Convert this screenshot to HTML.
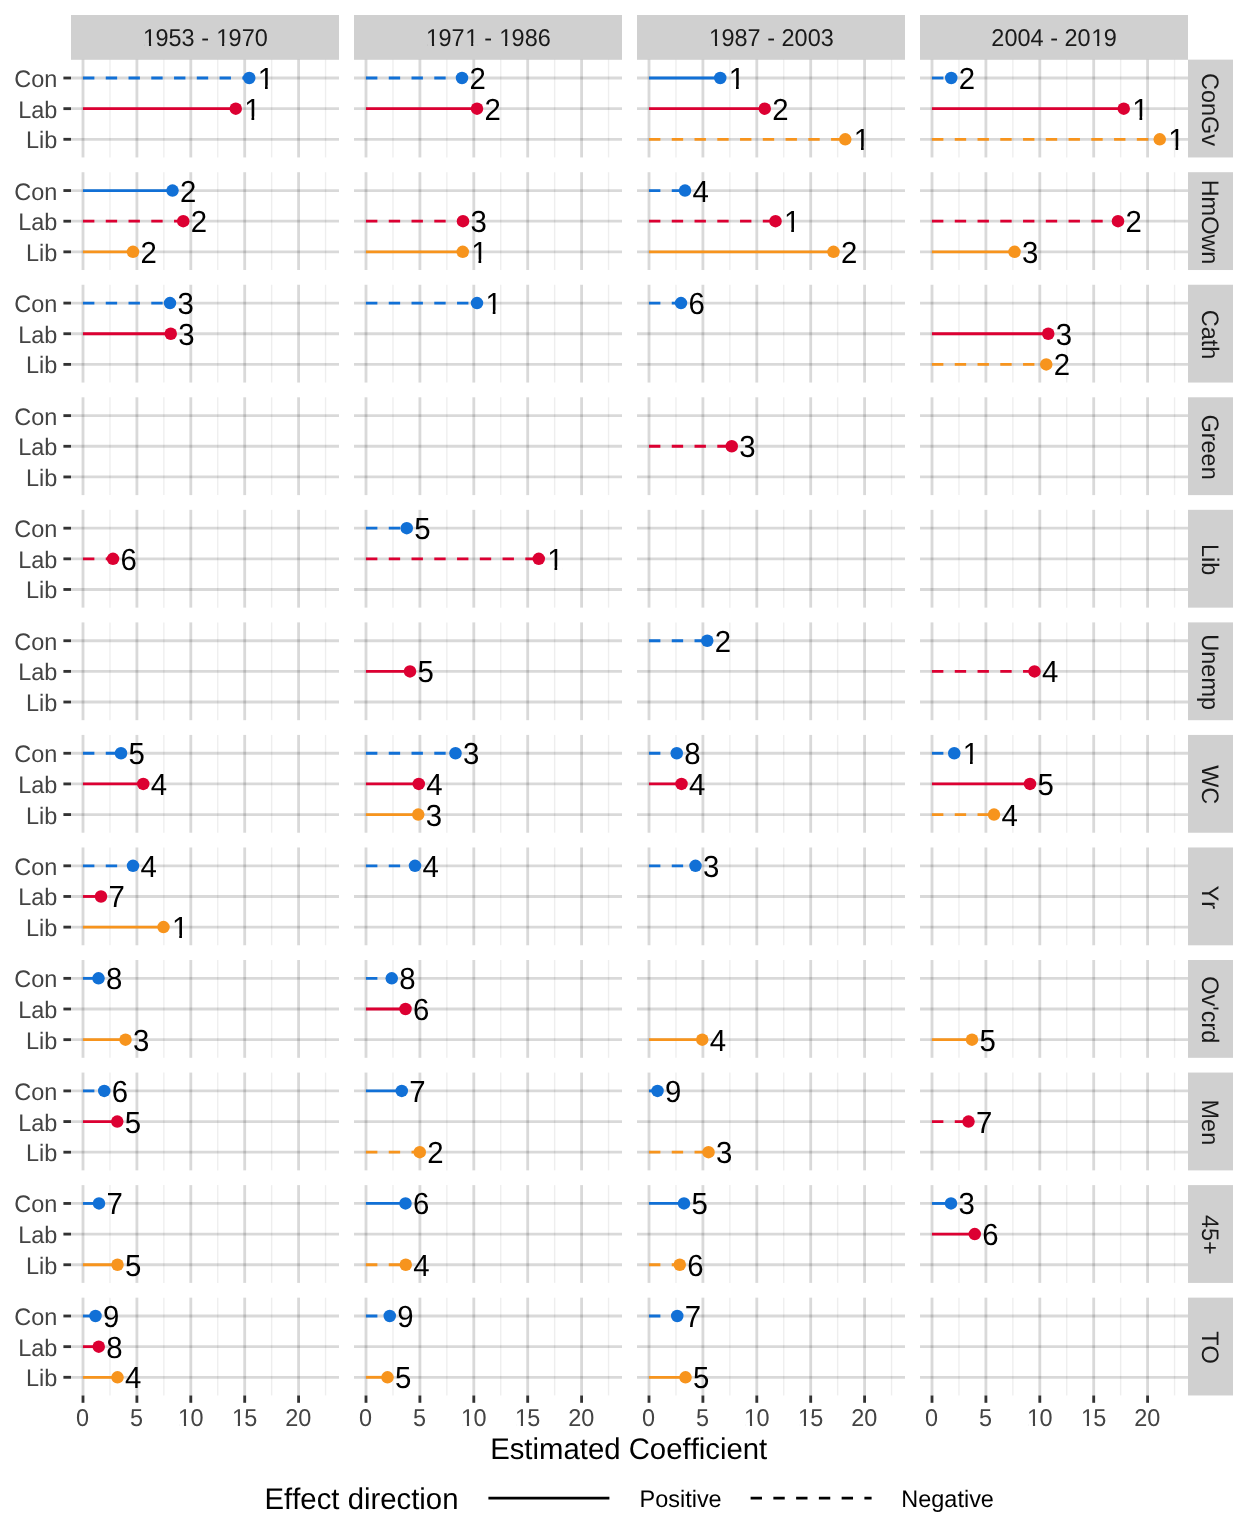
<!DOCTYPE html>
<html><head><meta charset="utf-8"><title>Estimated Coefficient</title>
<style>
html,body{margin:0;padding:0;background:#fff;}
body{width:1248px;height:1536px;overflow:hidden;}
svg{display:block;text-rendering:geometricPrecision;will-change:transform;font-variant-ligatures:none;font-kerning:none;font-family:"Liberation Sans",sans-serif;}
.ax{font-size:23.47px;fill:#444;}
.st{font-size:23.47px;fill:#1A1A1A;}
.lb{font-size:29.4px;fill:#000;}
.tt{font-size:29.33px;fill:#000;}
.lg{font-size:23.47px;fill:#000;}
</style></head>
<body>
<svg width="1248" height="1536" viewBox="0 0 1248 1536">
<rect width="1248" height="1536" fill="#fff"/>
<defs><clipPath id="k0" clipPathUnits="userSpaceOnUse"><path clip-rule="evenodd" d="M-5 -25.82 H133.26 V8 H-5 Z M1.87 -2.85 H6.58 V3 H1.87 Z M8.75 -2.85 H13.33 V3 H8.75 Z M74.94 -2.85 H79.64 V3 H74.94 Z M81.82 -2.85 H86.4 V3 H81.82 Z"/></clipPath><clipPath id="k1" clipPathUnits="userSpaceOnUse"><path clip-rule="evenodd" d="M-5 -25.82 H133.26 V8 H-5 Z M1.87 -2.85 H6.58 V3 H1.87 Z M8.75 -2.85 H13.33 V3 H8.75 Z M41.02 -2.85 H45.73 V3 H41.02 Z M47.9 -2.85 H52.48 V3 H47.9 Z M74.94 -2.85 H79.64 V3 H74.94 Z M81.82 -2.85 H86.4 V3 H81.82 Z"/></clipPath><clipPath id="k2" clipPathUnits="userSpaceOnUse"><path clip-rule="evenodd" d="M-5 -25.82 H133.26 V8 H-5 Z M1.87 -2.85 H6.58 V3 H1.87 Z M8.75 -2.85 H13.33 V3 H8.75 Z"/></clipPath><clipPath id="k3" clipPathUnits="userSpaceOnUse"><path clip-rule="evenodd" d="M-5 -25.82 H133.26 V8 H-5 Z M101.03 -2.85 H105.74 V3 H101.03 Z M107.91 -2.85 H112.49 V3 H107.91 Z"/></clipPath><clipPath id="k4" clipPathUnits="userSpaceOnUse"><path clip-rule="evenodd" d="M-5 -32.34 H24.35 V8 H-5 Z M2.35 -3.3 H8.25 V3 H2.35 Z M10.95 -3.3 H16.7 V3 H10.95 Z"/></clipPath><clipPath id="k5" clipPathUnits="userSpaceOnUse"><path clip-rule="evenodd" d="M-5 -25.82 H34.1 V8 H-5 Z M1.87 -2.85 H6.58 V3 H1.87 Z M8.75 -2.85 H13.33 V3 H8.75 Z"/></clipPath><clipPath id="k6" clipPathUnits="userSpaceOnUse"><path clip-rule="evenodd" d="M-5 -25.82 H34.1 V8 H-5 Z M1.87 -2.85 H6.58 V3 H1.87 Z M8.75 -2.85 H13.33 V3 H8.75 Z"/></clipPath></defs>
<rect x="71" y="15" width="268" height="44.8" fill="#D0D0D0"/>
<text class="st" transform="translate(142.37 46) scale(1 1.04)" dx="0.73 -0.73 0 0 0 0 0 0.73 -0.73 0 0" clip-path="url(#k0)">1953 - 1970</text>
<rect x="354" y="15" width="268" height="44.8" fill="#D0D0D0"/>
<text class="st" transform="translate(425.37 46) scale(1 1.04)" dx="0.73 -0.73 0 0.73 -0.73 0 0 0.73 -0.73 0 0" clip-path="url(#k1)">1971 - 1986</text>
<rect x="637" y="15" width="268" height="44.8" fill="#D0D0D0"/>
<text class="st" transform="translate(708.37 46) scale(1 1.04)" dx="0.73 -0.73 0 0 0 0 0 0 0 0 0" clip-path="url(#k2)">1987 - 2003</text>
<rect x="920" y="15" width="268" height="44.8" fill="#D0D0D0"/>
<text class="st" transform="translate(991.37 46) scale(1 1.04)" dx="0 0 0 0 0 0 0 0 0 0.73 -0.73" clip-path="url(#k3)">2004 - 2019</text>
<rect x="1188" y="59.65" width="45" height="97.82" fill="#D0D0D0"/>
<text class="st" text-anchor="middle" transform="translate(1202.1 109.46) rotate(90) scale(1 1.02)">ConGv</text>
<text class="ax" text-anchor="end" transform="translate(57.3 87) scale(1 1.02)">Con</text>
<line x1="63.4" x2="71" y1="78" y2="78" stroke="#333" stroke-width="2.845"/>
<text class="ax" text-anchor="end" transform="translate(57.3 118) scale(1 1.02)">Lab</text>
<line x1="63.4" x2="71" y1="108.65" y2="108.65" stroke="#333" stroke-width="2.845"/>
<text class="ax" text-anchor="end" transform="translate(57.3 148) scale(1 1.02)">Lib</text>
<line x1="63.4" x2="71" y1="139.3" y2="139.3" stroke="#333" stroke-width="2.845"/>
<line x1="109.95" x2="109.95" y1="59.65" y2="157.47" stroke="rgba(0,0,0,0.065)" stroke-width="1.42"/>
<line x1="163.85" x2="163.85" y1="59.65" y2="157.47" stroke="rgba(0,0,0,0.065)" stroke-width="1.42"/>
<line x1="217.75" x2="217.75" y1="59.65" y2="157.47" stroke="rgba(0,0,0,0.065)" stroke-width="1.42"/>
<line x1="271.65" x2="271.65" y1="59.65" y2="157.47" stroke="rgba(0,0,0,0.065)" stroke-width="1.42"/>
<line x1="325.55" x2="325.55" y1="59.65" y2="157.47" stroke="rgba(0,0,0,0.065)" stroke-width="1.42"/>
<line x1="83" x2="83" y1="59.65" y2="157.47" stroke="rgba(0,0,0,0.15)" stroke-width="2.845"/>
<line x1="136.9" x2="136.9" y1="59.65" y2="157.47" stroke="rgba(0,0,0,0.15)" stroke-width="2.845"/>
<line x1="190.8" x2="190.8" y1="59.65" y2="157.47" stroke="rgba(0,0,0,0.15)" stroke-width="2.845"/>
<line x1="244.7" x2="244.7" y1="59.65" y2="157.47" stroke="rgba(0,0,0,0.15)" stroke-width="2.845"/>
<line x1="298.6" x2="298.6" y1="59.65" y2="157.47" stroke="rgba(0,0,0,0.15)" stroke-width="2.845"/>
<line x1="71" x2="339" y1="78" y2="78" stroke="rgba(0,0,0,0.15)" stroke-width="2.845"/>
<line x1="71" x2="339" y1="108.65" y2="108.65" stroke="rgba(0,0,0,0.15)" stroke-width="2.845"/>
<line x1="71" x2="339" y1="139.3" y2="139.3" stroke="rgba(0,0,0,0.15)" stroke-width="2.845"/>
<line x1="83" x2="249.25" y1="78" y2="78" stroke="#1170D6" stroke-width="2.845" stroke-dasharray="11.38 11.38"/><circle cx="249.25" cy="78" r="6.25" fill="#1170D6"/><text class="lb" transform="translate(256.75 89) scale(1 1.04)" dx="0.91" clip-path="url(#k4)">1</text>
<line x1="83" x2="235.75" y1="108.65" y2="108.65" stroke="#DC0032" stroke-width="2.845"/><circle cx="235.75" cy="108.65" r="6.25" fill="#DC0032"/><text class="lb" transform="translate(243.25 120) scale(1 1.04)" dx="0.91" clip-path="url(#k4)">1</text>
<line x1="392.95" x2="392.95" y1="59.65" y2="157.47" stroke="rgba(0,0,0,0.065)" stroke-width="1.42"/>
<line x1="446.85" x2="446.85" y1="59.65" y2="157.47" stroke="rgba(0,0,0,0.065)" stroke-width="1.42"/>
<line x1="500.75" x2="500.75" y1="59.65" y2="157.47" stroke="rgba(0,0,0,0.065)" stroke-width="1.42"/>
<line x1="554.65" x2="554.65" y1="59.65" y2="157.47" stroke="rgba(0,0,0,0.065)" stroke-width="1.42"/>
<line x1="608.55" x2="608.55" y1="59.65" y2="157.47" stroke="rgba(0,0,0,0.065)" stroke-width="1.42"/>
<line x1="366" x2="366" y1="59.65" y2="157.47" stroke="rgba(0,0,0,0.15)" stroke-width="2.845"/>
<line x1="419.9" x2="419.9" y1="59.65" y2="157.47" stroke="rgba(0,0,0,0.15)" stroke-width="2.845"/>
<line x1="473.8" x2="473.8" y1="59.65" y2="157.47" stroke="rgba(0,0,0,0.15)" stroke-width="2.845"/>
<line x1="527.7" x2="527.7" y1="59.65" y2="157.47" stroke="rgba(0,0,0,0.15)" stroke-width="2.845"/>
<line x1="581.6" x2="581.6" y1="59.65" y2="157.47" stroke="rgba(0,0,0,0.15)" stroke-width="2.845"/>
<line x1="354" x2="622" y1="78" y2="78" stroke="rgba(0,0,0,0.15)" stroke-width="2.845"/>
<line x1="354" x2="622" y1="108.65" y2="108.65" stroke="rgba(0,0,0,0.15)" stroke-width="2.845"/>
<line x1="354" x2="622" y1="139.3" y2="139.3" stroke="rgba(0,0,0,0.15)" stroke-width="2.845"/>
<line x1="366" x2="462" y1="78" y2="78" stroke="#1170D6" stroke-width="2.845" stroke-dasharray="11.38 11.38"/><circle cx="462" cy="78" r="6.25" fill="#1170D6"/><text class="lb" transform="translate(469.5 89) scale(1 1.04)">2</text>
<line x1="366" x2="477" y1="108.65" y2="108.65" stroke="#DC0032" stroke-width="2.845"/><circle cx="477" cy="108.65" r="6.25" fill="#DC0032"/><text class="lb" transform="translate(484.5 120) scale(1 1.04)">2</text>
<line x1="675.95" x2="675.95" y1="59.65" y2="157.47" stroke="rgba(0,0,0,0.065)" stroke-width="1.42"/>
<line x1="729.85" x2="729.85" y1="59.65" y2="157.47" stroke="rgba(0,0,0,0.065)" stroke-width="1.42"/>
<line x1="783.75" x2="783.75" y1="59.65" y2="157.47" stroke="rgba(0,0,0,0.065)" stroke-width="1.42"/>
<line x1="837.65" x2="837.65" y1="59.65" y2="157.47" stroke="rgba(0,0,0,0.065)" stroke-width="1.42"/>
<line x1="891.55" x2="891.55" y1="59.65" y2="157.47" stroke="rgba(0,0,0,0.065)" stroke-width="1.42"/>
<line x1="649" x2="649" y1="59.65" y2="157.47" stroke="rgba(0,0,0,0.15)" stroke-width="2.845"/>
<line x1="702.9" x2="702.9" y1="59.65" y2="157.47" stroke="rgba(0,0,0,0.15)" stroke-width="2.845"/>
<line x1="756.8" x2="756.8" y1="59.65" y2="157.47" stroke="rgba(0,0,0,0.15)" stroke-width="2.845"/>
<line x1="810.7" x2="810.7" y1="59.65" y2="157.47" stroke="rgba(0,0,0,0.15)" stroke-width="2.845"/>
<line x1="864.6" x2="864.6" y1="59.65" y2="157.47" stroke="rgba(0,0,0,0.15)" stroke-width="2.845"/>
<line x1="637" x2="905" y1="78" y2="78" stroke="rgba(0,0,0,0.15)" stroke-width="2.845"/>
<line x1="637" x2="905" y1="108.65" y2="108.65" stroke="rgba(0,0,0,0.15)" stroke-width="2.845"/>
<line x1="637" x2="905" y1="139.3" y2="139.3" stroke="rgba(0,0,0,0.15)" stroke-width="2.845"/>
<line x1="649" x2="720.25" y1="78" y2="78" stroke="#1170D6" stroke-width="2.845"/><circle cx="720.25" cy="78" r="6.25" fill="#1170D6"/><text class="lb" transform="translate(727.75 89) scale(1 1.04)" dx="0.91" clip-path="url(#k4)">1</text>
<line x1="649" x2="764.75" y1="108.65" y2="108.65" stroke="#DC0032" stroke-width="2.845"/><circle cx="764.75" cy="108.65" r="6.25" fill="#DC0032"/><text class="lb" transform="translate(772.25 120) scale(1 1.04)">2</text>
<line x1="649" x2="845.25" y1="139.3" y2="139.3" stroke="#F7941D" stroke-width="2.845" stroke-dasharray="11.38 11.38"/><circle cx="845.25" cy="139.3" r="6.25" fill="#F7941D"/><text class="lb" transform="translate(852.75 150) scale(1 1.04)" dx="0.91" clip-path="url(#k4)">1</text>
<line x1="958.95" x2="958.95" y1="59.65" y2="157.47" stroke="rgba(0,0,0,0.065)" stroke-width="1.42"/>
<line x1="1012.85" x2="1012.85" y1="59.65" y2="157.47" stroke="rgba(0,0,0,0.065)" stroke-width="1.42"/>
<line x1="1066.75" x2="1066.75" y1="59.65" y2="157.47" stroke="rgba(0,0,0,0.065)" stroke-width="1.42"/>
<line x1="1120.65" x2="1120.65" y1="59.65" y2="157.47" stroke="rgba(0,0,0,0.065)" stroke-width="1.42"/>
<line x1="1174.55" x2="1174.55" y1="59.65" y2="157.47" stroke="rgba(0,0,0,0.065)" stroke-width="1.42"/>
<line x1="932" x2="932" y1="59.65" y2="157.47" stroke="rgba(0,0,0,0.15)" stroke-width="2.845"/>
<line x1="985.9" x2="985.9" y1="59.65" y2="157.47" stroke="rgba(0,0,0,0.15)" stroke-width="2.845"/>
<line x1="1039.8" x2="1039.8" y1="59.65" y2="157.47" stroke="rgba(0,0,0,0.15)" stroke-width="2.845"/>
<line x1="1093.7" x2="1093.7" y1="59.65" y2="157.47" stroke="rgba(0,0,0,0.15)" stroke-width="2.845"/>
<line x1="1147.6" x2="1147.6" y1="59.65" y2="157.47" stroke="rgba(0,0,0,0.15)" stroke-width="2.845"/>
<line x1="920" x2="1188" y1="78" y2="78" stroke="rgba(0,0,0,0.15)" stroke-width="2.845"/>
<line x1="920" x2="1188" y1="108.65" y2="108.65" stroke="rgba(0,0,0,0.15)" stroke-width="2.845"/>
<line x1="920" x2="1188" y1="139.3" y2="139.3" stroke="rgba(0,0,0,0.15)" stroke-width="2.845"/>
<line x1="932" x2="951.25" y1="78" y2="78" stroke="#1170D6" stroke-width="2.845" stroke-dasharray="11.38 11.38"/><circle cx="951.25" cy="78" r="6.25" fill="#1170D6"/><text class="lb" transform="translate(958.75 89) scale(1 1.04)">2</text>
<line x1="932" x2="1123.75" y1="108.65" y2="108.65" stroke="#DC0032" stroke-width="2.845"/><circle cx="1123.75" cy="108.65" r="6.25" fill="#DC0032"/><text class="lb" transform="translate(1131.25 120) scale(1 1.04)" dx="0.91" clip-path="url(#k4)">1</text>
<line x1="932" x2="1159.75" y1="139.3" y2="139.3" stroke="#F7941D" stroke-width="2.845" stroke-dasharray="11.38 11.38"/><circle cx="1159.75" cy="139.3" r="6.25" fill="#F7941D"/><text class="lb" transform="translate(1167.25 150) scale(1 1.04)" dx="0.91" clip-path="url(#k4)">1</text>
<rect x="1188" y="172.2" width="45" height="97.82" fill="#D0D0D0"/>
<text class="st" text-anchor="middle" transform="translate(1202.1 222.01) rotate(90) scale(1 1.02)">HmOwn</text>
<text class="ax" text-anchor="end" transform="translate(57.3 200) scale(1 1.02)">Con</text>
<line x1="63.4" x2="71" y1="190.55" y2="190.55" stroke="#333" stroke-width="2.845"/>
<text class="ax" text-anchor="end" transform="translate(57.3 230) scale(1 1.02)">Lab</text>
<line x1="63.4" x2="71" y1="221.2" y2="221.2" stroke="#333" stroke-width="2.845"/>
<text class="ax" text-anchor="end" transform="translate(57.3 261) scale(1 1.02)">Lib</text>
<line x1="63.4" x2="71" y1="251.85" y2="251.85" stroke="#333" stroke-width="2.845"/>
<line x1="109.95" x2="109.95" y1="172.2" y2="270.01" stroke="rgba(0,0,0,0.065)" stroke-width="1.42"/>
<line x1="163.85" x2="163.85" y1="172.2" y2="270.01" stroke="rgba(0,0,0,0.065)" stroke-width="1.42"/>
<line x1="217.75" x2="217.75" y1="172.2" y2="270.01" stroke="rgba(0,0,0,0.065)" stroke-width="1.42"/>
<line x1="271.65" x2="271.65" y1="172.2" y2="270.01" stroke="rgba(0,0,0,0.065)" stroke-width="1.42"/>
<line x1="325.55" x2="325.55" y1="172.2" y2="270.01" stroke="rgba(0,0,0,0.065)" stroke-width="1.42"/>
<line x1="83" x2="83" y1="172.2" y2="270.01" stroke="rgba(0,0,0,0.15)" stroke-width="2.845"/>
<line x1="136.9" x2="136.9" y1="172.2" y2="270.01" stroke="rgba(0,0,0,0.15)" stroke-width="2.845"/>
<line x1="190.8" x2="190.8" y1="172.2" y2="270.01" stroke="rgba(0,0,0,0.15)" stroke-width="2.845"/>
<line x1="244.7" x2="244.7" y1="172.2" y2="270.01" stroke="rgba(0,0,0,0.15)" stroke-width="2.845"/>
<line x1="298.6" x2="298.6" y1="172.2" y2="270.01" stroke="rgba(0,0,0,0.15)" stroke-width="2.845"/>
<line x1="71" x2="339" y1="190.55" y2="190.55" stroke="rgba(0,0,0,0.15)" stroke-width="2.845"/>
<line x1="71" x2="339" y1="221.2" y2="221.2" stroke="rgba(0,0,0,0.15)" stroke-width="2.845"/>
<line x1="71" x2="339" y1="251.85" y2="251.85" stroke="rgba(0,0,0,0.15)" stroke-width="2.845"/>
<line x1="83" x2="172.5" y1="190.55" y2="190.55" stroke="#1170D6" stroke-width="2.845"/><circle cx="172.5" cy="190.55" r="6.25" fill="#1170D6"/><text class="lb" transform="translate(180 202) scale(1 1.04)">2</text>
<line x1="83" x2="183.25" y1="221.2" y2="221.2" stroke="#DC0032" stroke-width="2.845" stroke-dasharray="11.38 11.38"/><circle cx="183.25" cy="221.2" r="6.25" fill="#DC0032"/><text class="lb" transform="translate(190.75 232) scale(1 1.04)">2</text>
<line x1="83" x2="133" y1="251.85" y2="251.85" stroke="#F7941D" stroke-width="2.845"/><circle cx="133" cy="251.85" r="6.25" fill="#F7941D"/><text class="lb" transform="translate(140.5 263) scale(1 1.04)">2</text>
<line x1="392.95" x2="392.95" y1="172.2" y2="270.01" stroke="rgba(0,0,0,0.065)" stroke-width="1.42"/>
<line x1="446.85" x2="446.85" y1="172.2" y2="270.01" stroke="rgba(0,0,0,0.065)" stroke-width="1.42"/>
<line x1="500.75" x2="500.75" y1="172.2" y2="270.01" stroke="rgba(0,0,0,0.065)" stroke-width="1.42"/>
<line x1="554.65" x2="554.65" y1="172.2" y2="270.01" stroke="rgba(0,0,0,0.065)" stroke-width="1.42"/>
<line x1="608.55" x2="608.55" y1="172.2" y2="270.01" stroke="rgba(0,0,0,0.065)" stroke-width="1.42"/>
<line x1="366" x2="366" y1="172.2" y2="270.01" stroke="rgba(0,0,0,0.15)" stroke-width="2.845"/>
<line x1="419.9" x2="419.9" y1="172.2" y2="270.01" stroke="rgba(0,0,0,0.15)" stroke-width="2.845"/>
<line x1="473.8" x2="473.8" y1="172.2" y2="270.01" stroke="rgba(0,0,0,0.15)" stroke-width="2.845"/>
<line x1="527.7" x2="527.7" y1="172.2" y2="270.01" stroke="rgba(0,0,0,0.15)" stroke-width="2.845"/>
<line x1="581.6" x2="581.6" y1="172.2" y2="270.01" stroke="rgba(0,0,0,0.15)" stroke-width="2.845"/>
<line x1="354" x2="622" y1="190.55" y2="190.55" stroke="rgba(0,0,0,0.15)" stroke-width="2.845"/>
<line x1="354" x2="622" y1="221.2" y2="221.2" stroke="rgba(0,0,0,0.15)" stroke-width="2.845"/>
<line x1="354" x2="622" y1="251.85" y2="251.85" stroke="rgba(0,0,0,0.15)" stroke-width="2.845"/>
<line x1="366" x2="463" y1="221.2" y2="221.2" stroke="#DC0032" stroke-width="2.845" stroke-dasharray="11.38 11.38"/><circle cx="463" cy="221.2" r="6.25" fill="#DC0032"/><text class="lb" transform="translate(470.5 232) scale(1 1.04)">3</text>
<line x1="366" x2="462.75" y1="251.85" y2="251.85" stroke="#F7941D" stroke-width="2.845"/><circle cx="462.75" cy="251.85" r="6.25" fill="#F7941D"/><text class="lb" transform="translate(470.25 263) scale(1 1.04)" dx="0.91" clip-path="url(#k4)">1</text>
<line x1="675.95" x2="675.95" y1="172.2" y2="270.01" stroke="rgba(0,0,0,0.065)" stroke-width="1.42"/>
<line x1="729.85" x2="729.85" y1="172.2" y2="270.01" stroke="rgba(0,0,0,0.065)" stroke-width="1.42"/>
<line x1="783.75" x2="783.75" y1="172.2" y2="270.01" stroke="rgba(0,0,0,0.065)" stroke-width="1.42"/>
<line x1="837.65" x2="837.65" y1="172.2" y2="270.01" stroke="rgba(0,0,0,0.065)" stroke-width="1.42"/>
<line x1="891.55" x2="891.55" y1="172.2" y2="270.01" stroke="rgba(0,0,0,0.065)" stroke-width="1.42"/>
<line x1="649" x2="649" y1="172.2" y2="270.01" stroke="rgba(0,0,0,0.15)" stroke-width="2.845"/>
<line x1="702.9" x2="702.9" y1="172.2" y2="270.01" stroke="rgba(0,0,0,0.15)" stroke-width="2.845"/>
<line x1="756.8" x2="756.8" y1="172.2" y2="270.01" stroke="rgba(0,0,0,0.15)" stroke-width="2.845"/>
<line x1="810.7" x2="810.7" y1="172.2" y2="270.01" stroke="rgba(0,0,0,0.15)" stroke-width="2.845"/>
<line x1="864.6" x2="864.6" y1="172.2" y2="270.01" stroke="rgba(0,0,0,0.15)" stroke-width="2.845"/>
<line x1="637" x2="905" y1="190.55" y2="190.55" stroke="rgba(0,0,0,0.15)" stroke-width="2.845"/>
<line x1="637" x2="905" y1="221.2" y2="221.2" stroke="rgba(0,0,0,0.15)" stroke-width="2.845"/>
<line x1="637" x2="905" y1="251.85" y2="251.85" stroke="rgba(0,0,0,0.15)" stroke-width="2.845"/>
<line x1="649" x2="685" y1="190.55" y2="190.55" stroke="#1170D6" stroke-width="2.845" stroke-dasharray="11.38 11.38"/><circle cx="685" cy="190.55" r="6.25" fill="#1170D6"/><text class="lb" transform="translate(692.5 202) scale(1 1.04)">4</text>
<line x1="649" x2="775.5" y1="221.2" y2="221.2" stroke="#DC0032" stroke-width="2.845" stroke-dasharray="11.38 11.38"/><circle cx="775.5" cy="221.2" r="6.25" fill="#DC0032"/><text class="lb" transform="translate(783 232) scale(1 1.04)" dx="0.91" clip-path="url(#k4)">1</text>
<line x1="649" x2="833.5" y1="251.85" y2="251.85" stroke="#F7941D" stroke-width="2.845"/><circle cx="833.5" cy="251.85" r="6.25" fill="#F7941D"/><text class="lb" transform="translate(841 263) scale(1 1.04)">2</text>
<line x1="958.95" x2="958.95" y1="172.2" y2="270.01" stroke="rgba(0,0,0,0.065)" stroke-width="1.42"/>
<line x1="1012.85" x2="1012.85" y1="172.2" y2="270.01" stroke="rgba(0,0,0,0.065)" stroke-width="1.42"/>
<line x1="1066.75" x2="1066.75" y1="172.2" y2="270.01" stroke="rgba(0,0,0,0.065)" stroke-width="1.42"/>
<line x1="1120.65" x2="1120.65" y1="172.2" y2="270.01" stroke="rgba(0,0,0,0.065)" stroke-width="1.42"/>
<line x1="1174.55" x2="1174.55" y1="172.2" y2="270.01" stroke="rgba(0,0,0,0.065)" stroke-width="1.42"/>
<line x1="932" x2="932" y1="172.2" y2="270.01" stroke="rgba(0,0,0,0.15)" stroke-width="2.845"/>
<line x1="985.9" x2="985.9" y1="172.2" y2="270.01" stroke="rgba(0,0,0,0.15)" stroke-width="2.845"/>
<line x1="1039.8" x2="1039.8" y1="172.2" y2="270.01" stroke="rgba(0,0,0,0.15)" stroke-width="2.845"/>
<line x1="1093.7" x2="1093.7" y1="172.2" y2="270.01" stroke="rgba(0,0,0,0.15)" stroke-width="2.845"/>
<line x1="1147.6" x2="1147.6" y1="172.2" y2="270.01" stroke="rgba(0,0,0,0.15)" stroke-width="2.845"/>
<line x1="920" x2="1188" y1="190.55" y2="190.55" stroke="rgba(0,0,0,0.15)" stroke-width="2.845"/>
<line x1="920" x2="1188" y1="221.2" y2="221.2" stroke="rgba(0,0,0,0.15)" stroke-width="2.845"/>
<line x1="920" x2="1188" y1="251.85" y2="251.85" stroke="rgba(0,0,0,0.15)" stroke-width="2.845"/>
<line x1="932" x2="1118" y1="221.2" y2="221.2" stroke="#DC0032" stroke-width="2.845" stroke-dasharray="11.38 11.38"/><circle cx="1118" cy="221.2" r="6.25" fill="#DC0032"/><text class="lb" transform="translate(1125.5 232) scale(1 1.04)">2</text>
<line x1="932" x2="1014.5" y1="251.85" y2="251.85" stroke="#F7941D" stroke-width="2.845"/><circle cx="1014.5" cy="251.85" r="6.25" fill="#F7941D"/><text class="lb" transform="translate(1022 263) scale(1 1.04)">3</text>
<rect x="1188" y="284.74" width="45" height="97.82" fill="#D0D0D0"/>
<text class="st" text-anchor="middle" transform="translate(1202.1 334.55) rotate(90) scale(1 1.02)">Cath</text>
<text class="ax" text-anchor="end" transform="translate(57.3 312) scale(1 1.02)">Con</text>
<line x1="63.4" x2="71" y1="303.09" y2="303.09" stroke="#333" stroke-width="2.845"/>
<text class="ax" text-anchor="end" transform="translate(57.3 343) scale(1 1.02)">Lab</text>
<line x1="63.4" x2="71" y1="333.74" y2="333.74" stroke="#333" stroke-width="2.845"/>
<text class="ax" text-anchor="end" transform="translate(57.3 373) scale(1 1.02)">Lib</text>
<line x1="63.4" x2="71" y1="364.39" y2="364.39" stroke="#333" stroke-width="2.845"/>
<line x1="109.95" x2="109.95" y1="284.74" y2="382.56" stroke="rgba(0,0,0,0.065)" stroke-width="1.42"/>
<line x1="163.85" x2="163.85" y1="284.74" y2="382.56" stroke="rgba(0,0,0,0.065)" stroke-width="1.42"/>
<line x1="217.75" x2="217.75" y1="284.74" y2="382.56" stroke="rgba(0,0,0,0.065)" stroke-width="1.42"/>
<line x1="271.65" x2="271.65" y1="284.74" y2="382.56" stroke="rgba(0,0,0,0.065)" stroke-width="1.42"/>
<line x1="325.55" x2="325.55" y1="284.74" y2="382.56" stroke="rgba(0,0,0,0.065)" stroke-width="1.42"/>
<line x1="83" x2="83" y1="284.74" y2="382.56" stroke="rgba(0,0,0,0.15)" stroke-width="2.845"/>
<line x1="136.9" x2="136.9" y1="284.74" y2="382.56" stroke="rgba(0,0,0,0.15)" stroke-width="2.845"/>
<line x1="190.8" x2="190.8" y1="284.74" y2="382.56" stroke="rgba(0,0,0,0.15)" stroke-width="2.845"/>
<line x1="244.7" x2="244.7" y1="284.74" y2="382.56" stroke="rgba(0,0,0,0.15)" stroke-width="2.845"/>
<line x1="298.6" x2="298.6" y1="284.74" y2="382.56" stroke="rgba(0,0,0,0.15)" stroke-width="2.845"/>
<line x1="71" x2="339" y1="303.09" y2="303.09" stroke="rgba(0,0,0,0.15)" stroke-width="2.845"/>
<line x1="71" x2="339" y1="333.74" y2="333.74" stroke="rgba(0,0,0,0.15)" stroke-width="2.845"/>
<line x1="71" x2="339" y1="364.39" y2="364.39" stroke="rgba(0,0,0,0.15)" stroke-width="2.845"/>
<line x1="83" x2="170" y1="303.09" y2="303.09" stroke="#1170D6" stroke-width="2.845" stroke-dasharray="11.38 11.38"/><circle cx="170" cy="303.09" r="6.25" fill="#1170D6"/><text class="lb" transform="translate(177.5 314) scale(1 1.04)">3</text>
<line x1="83" x2="170.75" y1="333.74" y2="333.74" stroke="#DC0032" stroke-width="2.845"/><circle cx="170.75" cy="333.74" r="6.25" fill="#DC0032"/><text class="lb" transform="translate(178.25 345) scale(1 1.04)">3</text>
<line x1="392.95" x2="392.95" y1="284.74" y2="382.56" stroke="rgba(0,0,0,0.065)" stroke-width="1.42"/>
<line x1="446.85" x2="446.85" y1="284.74" y2="382.56" stroke="rgba(0,0,0,0.065)" stroke-width="1.42"/>
<line x1="500.75" x2="500.75" y1="284.74" y2="382.56" stroke="rgba(0,0,0,0.065)" stroke-width="1.42"/>
<line x1="554.65" x2="554.65" y1="284.74" y2="382.56" stroke="rgba(0,0,0,0.065)" stroke-width="1.42"/>
<line x1="608.55" x2="608.55" y1="284.74" y2="382.56" stroke="rgba(0,0,0,0.065)" stroke-width="1.42"/>
<line x1="366" x2="366" y1="284.74" y2="382.56" stroke="rgba(0,0,0,0.15)" stroke-width="2.845"/>
<line x1="419.9" x2="419.9" y1="284.74" y2="382.56" stroke="rgba(0,0,0,0.15)" stroke-width="2.845"/>
<line x1="473.8" x2="473.8" y1="284.74" y2="382.56" stroke="rgba(0,0,0,0.15)" stroke-width="2.845"/>
<line x1="527.7" x2="527.7" y1="284.74" y2="382.56" stroke="rgba(0,0,0,0.15)" stroke-width="2.845"/>
<line x1="581.6" x2="581.6" y1="284.74" y2="382.56" stroke="rgba(0,0,0,0.15)" stroke-width="2.845"/>
<line x1="354" x2="622" y1="303.09" y2="303.09" stroke="rgba(0,0,0,0.15)" stroke-width="2.845"/>
<line x1="354" x2="622" y1="333.74" y2="333.74" stroke="rgba(0,0,0,0.15)" stroke-width="2.845"/>
<line x1="354" x2="622" y1="364.39" y2="364.39" stroke="rgba(0,0,0,0.15)" stroke-width="2.845"/>
<line x1="366" x2="477" y1="303.09" y2="303.09" stroke="#1170D6" stroke-width="2.845" stroke-dasharray="11.38 11.38"/><circle cx="477" cy="303.09" r="6.25" fill="#1170D6"/><text class="lb" transform="translate(484.5 314) scale(1 1.04)" dx="0.91" clip-path="url(#k4)">1</text>
<line x1="675.95" x2="675.95" y1="284.74" y2="382.56" stroke="rgba(0,0,0,0.065)" stroke-width="1.42"/>
<line x1="729.85" x2="729.85" y1="284.74" y2="382.56" stroke="rgba(0,0,0,0.065)" stroke-width="1.42"/>
<line x1="783.75" x2="783.75" y1="284.74" y2="382.56" stroke="rgba(0,0,0,0.065)" stroke-width="1.42"/>
<line x1="837.65" x2="837.65" y1="284.74" y2="382.56" stroke="rgba(0,0,0,0.065)" stroke-width="1.42"/>
<line x1="891.55" x2="891.55" y1="284.74" y2="382.56" stroke="rgba(0,0,0,0.065)" stroke-width="1.42"/>
<line x1="649" x2="649" y1="284.74" y2="382.56" stroke="rgba(0,0,0,0.15)" stroke-width="2.845"/>
<line x1="702.9" x2="702.9" y1="284.74" y2="382.56" stroke="rgba(0,0,0,0.15)" stroke-width="2.845"/>
<line x1="756.8" x2="756.8" y1="284.74" y2="382.56" stroke="rgba(0,0,0,0.15)" stroke-width="2.845"/>
<line x1="810.7" x2="810.7" y1="284.74" y2="382.56" stroke="rgba(0,0,0,0.15)" stroke-width="2.845"/>
<line x1="864.6" x2="864.6" y1="284.74" y2="382.56" stroke="rgba(0,0,0,0.15)" stroke-width="2.845"/>
<line x1="637" x2="905" y1="303.09" y2="303.09" stroke="rgba(0,0,0,0.15)" stroke-width="2.845"/>
<line x1="637" x2="905" y1="333.74" y2="333.74" stroke="rgba(0,0,0,0.15)" stroke-width="2.845"/>
<line x1="637" x2="905" y1="364.39" y2="364.39" stroke="rgba(0,0,0,0.15)" stroke-width="2.845"/>
<line x1="649" x2="681" y1="303.09" y2="303.09" stroke="#1170D6" stroke-width="2.845" stroke-dasharray="11.38 11.38"/><circle cx="681" cy="303.09" r="6.25" fill="#1170D6"/><text class="lb" transform="translate(688.5 314) scale(1 1.04)">6</text>
<line x1="958.95" x2="958.95" y1="284.74" y2="382.56" stroke="rgba(0,0,0,0.065)" stroke-width="1.42"/>
<line x1="1012.85" x2="1012.85" y1="284.74" y2="382.56" stroke="rgba(0,0,0,0.065)" stroke-width="1.42"/>
<line x1="1066.75" x2="1066.75" y1="284.74" y2="382.56" stroke="rgba(0,0,0,0.065)" stroke-width="1.42"/>
<line x1="1120.65" x2="1120.65" y1="284.74" y2="382.56" stroke="rgba(0,0,0,0.065)" stroke-width="1.42"/>
<line x1="1174.55" x2="1174.55" y1="284.74" y2="382.56" stroke="rgba(0,0,0,0.065)" stroke-width="1.42"/>
<line x1="932" x2="932" y1="284.74" y2="382.56" stroke="rgba(0,0,0,0.15)" stroke-width="2.845"/>
<line x1="985.9" x2="985.9" y1="284.74" y2="382.56" stroke="rgba(0,0,0,0.15)" stroke-width="2.845"/>
<line x1="1039.8" x2="1039.8" y1="284.74" y2="382.56" stroke="rgba(0,0,0,0.15)" stroke-width="2.845"/>
<line x1="1093.7" x2="1093.7" y1="284.74" y2="382.56" stroke="rgba(0,0,0,0.15)" stroke-width="2.845"/>
<line x1="1147.6" x2="1147.6" y1="284.74" y2="382.56" stroke="rgba(0,0,0,0.15)" stroke-width="2.845"/>
<line x1="920" x2="1188" y1="303.09" y2="303.09" stroke="rgba(0,0,0,0.15)" stroke-width="2.845"/>
<line x1="920" x2="1188" y1="333.74" y2="333.74" stroke="rgba(0,0,0,0.15)" stroke-width="2.845"/>
<line x1="920" x2="1188" y1="364.39" y2="364.39" stroke="rgba(0,0,0,0.15)" stroke-width="2.845"/>
<line x1="932" x2="1048.25" y1="333.74" y2="333.74" stroke="#DC0032" stroke-width="2.845"/><circle cx="1048.25" cy="333.74" r="6.25" fill="#DC0032"/><text class="lb" transform="translate(1055.75 345) scale(1 1.04)">3</text>
<line x1="932" x2="1046.25" y1="364.39" y2="364.39" stroke="#F7941D" stroke-width="2.845" stroke-dasharray="11.38 11.38"/><circle cx="1046.25" cy="364.39" r="6.25" fill="#F7941D"/><text class="lb" transform="translate(1053.75 375) scale(1 1.04)">2</text>
<rect x="1188" y="397.28" width="45" height="97.82" fill="#D0D0D0"/>
<text class="st" text-anchor="middle" transform="translate(1202.1 447.09) rotate(90) scale(1 1.02)">Green</text>
<text class="ax" text-anchor="end" transform="translate(57.3 425) scale(1 1.02)">Con</text>
<line x1="63.4" x2="71" y1="415.63" y2="415.63" stroke="#333" stroke-width="2.845"/>
<text class="ax" text-anchor="end" transform="translate(57.3 455) scale(1 1.02)">Lab</text>
<line x1="63.4" x2="71" y1="446.28" y2="446.28" stroke="#333" stroke-width="2.845"/>
<text class="ax" text-anchor="end" transform="translate(57.3 486) scale(1 1.02)">Lib</text>
<line x1="63.4" x2="71" y1="476.94" y2="476.94" stroke="#333" stroke-width="2.845"/>
<line x1="109.95" x2="109.95" y1="397.28" y2="495.11" stroke="rgba(0,0,0,0.065)" stroke-width="1.42"/>
<line x1="163.85" x2="163.85" y1="397.28" y2="495.11" stroke="rgba(0,0,0,0.065)" stroke-width="1.42"/>
<line x1="217.75" x2="217.75" y1="397.28" y2="495.11" stroke="rgba(0,0,0,0.065)" stroke-width="1.42"/>
<line x1="271.65" x2="271.65" y1="397.28" y2="495.11" stroke="rgba(0,0,0,0.065)" stroke-width="1.42"/>
<line x1="325.55" x2="325.55" y1="397.28" y2="495.11" stroke="rgba(0,0,0,0.065)" stroke-width="1.42"/>
<line x1="83" x2="83" y1="397.28" y2="495.11" stroke="rgba(0,0,0,0.15)" stroke-width="2.845"/>
<line x1="136.9" x2="136.9" y1="397.28" y2="495.11" stroke="rgba(0,0,0,0.15)" stroke-width="2.845"/>
<line x1="190.8" x2="190.8" y1="397.28" y2="495.11" stroke="rgba(0,0,0,0.15)" stroke-width="2.845"/>
<line x1="244.7" x2="244.7" y1="397.28" y2="495.11" stroke="rgba(0,0,0,0.15)" stroke-width="2.845"/>
<line x1="298.6" x2="298.6" y1="397.28" y2="495.11" stroke="rgba(0,0,0,0.15)" stroke-width="2.845"/>
<line x1="71" x2="339" y1="415.63" y2="415.63" stroke="rgba(0,0,0,0.15)" stroke-width="2.845"/>
<line x1="71" x2="339" y1="446.28" y2="446.28" stroke="rgba(0,0,0,0.15)" stroke-width="2.845"/>
<line x1="71" x2="339" y1="476.94" y2="476.94" stroke="rgba(0,0,0,0.15)" stroke-width="2.845"/>
<line x1="392.95" x2="392.95" y1="397.28" y2="495.11" stroke="rgba(0,0,0,0.065)" stroke-width="1.42"/>
<line x1="446.85" x2="446.85" y1="397.28" y2="495.11" stroke="rgba(0,0,0,0.065)" stroke-width="1.42"/>
<line x1="500.75" x2="500.75" y1="397.28" y2="495.11" stroke="rgba(0,0,0,0.065)" stroke-width="1.42"/>
<line x1="554.65" x2="554.65" y1="397.28" y2="495.11" stroke="rgba(0,0,0,0.065)" stroke-width="1.42"/>
<line x1="608.55" x2="608.55" y1="397.28" y2="495.11" stroke="rgba(0,0,0,0.065)" stroke-width="1.42"/>
<line x1="366" x2="366" y1="397.28" y2="495.11" stroke="rgba(0,0,0,0.15)" stroke-width="2.845"/>
<line x1="419.9" x2="419.9" y1="397.28" y2="495.11" stroke="rgba(0,0,0,0.15)" stroke-width="2.845"/>
<line x1="473.8" x2="473.8" y1="397.28" y2="495.11" stroke="rgba(0,0,0,0.15)" stroke-width="2.845"/>
<line x1="527.7" x2="527.7" y1="397.28" y2="495.11" stroke="rgba(0,0,0,0.15)" stroke-width="2.845"/>
<line x1="581.6" x2="581.6" y1="397.28" y2="495.11" stroke="rgba(0,0,0,0.15)" stroke-width="2.845"/>
<line x1="354" x2="622" y1="415.63" y2="415.63" stroke="rgba(0,0,0,0.15)" stroke-width="2.845"/>
<line x1="354" x2="622" y1="446.28" y2="446.28" stroke="rgba(0,0,0,0.15)" stroke-width="2.845"/>
<line x1="354" x2="622" y1="476.94" y2="476.94" stroke="rgba(0,0,0,0.15)" stroke-width="2.845"/>
<line x1="675.95" x2="675.95" y1="397.28" y2="495.11" stroke="rgba(0,0,0,0.065)" stroke-width="1.42"/>
<line x1="729.85" x2="729.85" y1="397.28" y2="495.11" stroke="rgba(0,0,0,0.065)" stroke-width="1.42"/>
<line x1="783.75" x2="783.75" y1="397.28" y2="495.11" stroke="rgba(0,0,0,0.065)" stroke-width="1.42"/>
<line x1="837.65" x2="837.65" y1="397.28" y2="495.11" stroke="rgba(0,0,0,0.065)" stroke-width="1.42"/>
<line x1="891.55" x2="891.55" y1="397.28" y2="495.11" stroke="rgba(0,0,0,0.065)" stroke-width="1.42"/>
<line x1="649" x2="649" y1="397.28" y2="495.11" stroke="rgba(0,0,0,0.15)" stroke-width="2.845"/>
<line x1="702.9" x2="702.9" y1="397.28" y2="495.11" stroke="rgba(0,0,0,0.15)" stroke-width="2.845"/>
<line x1="756.8" x2="756.8" y1="397.28" y2="495.11" stroke="rgba(0,0,0,0.15)" stroke-width="2.845"/>
<line x1="810.7" x2="810.7" y1="397.28" y2="495.11" stroke="rgba(0,0,0,0.15)" stroke-width="2.845"/>
<line x1="864.6" x2="864.6" y1="397.28" y2="495.11" stroke="rgba(0,0,0,0.15)" stroke-width="2.845"/>
<line x1="637" x2="905" y1="415.63" y2="415.63" stroke="rgba(0,0,0,0.15)" stroke-width="2.845"/>
<line x1="637" x2="905" y1="446.28" y2="446.28" stroke="rgba(0,0,0,0.15)" stroke-width="2.845"/>
<line x1="637" x2="905" y1="476.94" y2="476.94" stroke="rgba(0,0,0,0.15)" stroke-width="2.845"/>
<line x1="649" x2="731.75" y1="446.28" y2="446.28" stroke="#DC0032" stroke-width="2.845" stroke-dasharray="11.38 11.38"/><circle cx="731.75" cy="446.28" r="6.25" fill="#DC0032"/><text class="lb" transform="translate(739.25 457) scale(1 1.04)">3</text>
<line x1="958.95" x2="958.95" y1="397.28" y2="495.11" stroke="rgba(0,0,0,0.065)" stroke-width="1.42"/>
<line x1="1012.85" x2="1012.85" y1="397.28" y2="495.11" stroke="rgba(0,0,0,0.065)" stroke-width="1.42"/>
<line x1="1066.75" x2="1066.75" y1="397.28" y2="495.11" stroke="rgba(0,0,0,0.065)" stroke-width="1.42"/>
<line x1="1120.65" x2="1120.65" y1="397.28" y2="495.11" stroke="rgba(0,0,0,0.065)" stroke-width="1.42"/>
<line x1="1174.55" x2="1174.55" y1="397.28" y2="495.11" stroke="rgba(0,0,0,0.065)" stroke-width="1.42"/>
<line x1="932" x2="932" y1="397.28" y2="495.11" stroke="rgba(0,0,0,0.15)" stroke-width="2.845"/>
<line x1="985.9" x2="985.9" y1="397.28" y2="495.11" stroke="rgba(0,0,0,0.15)" stroke-width="2.845"/>
<line x1="1039.8" x2="1039.8" y1="397.28" y2="495.11" stroke="rgba(0,0,0,0.15)" stroke-width="2.845"/>
<line x1="1093.7" x2="1093.7" y1="397.28" y2="495.11" stroke="rgba(0,0,0,0.15)" stroke-width="2.845"/>
<line x1="1147.6" x2="1147.6" y1="397.28" y2="495.11" stroke="rgba(0,0,0,0.15)" stroke-width="2.845"/>
<line x1="920" x2="1188" y1="415.63" y2="415.63" stroke="rgba(0,0,0,0.15)" stroke-width="2.845"/>
<line x1="920" x2="1188" y1="446.28" y2="446.28" stroke="rgba(0,0,0,0.15)" stroke-width="2.845"/>
<line x1="920" x2="1188" y1="476.94" y2="476.94" stroke="rgba(0,0,0,0.15)" stroke-width="2.845"/>
<rect x="1188" y="509.83" width="45" height="97.82" fill="#D0D0D0"/>
<text class="st" text-anchor="middle" transform="translate(1202.1 559.64) rotate(90) scale(1 1.02)">Lib</text>
<text class="ax" text-anchor="end" transform="translate(57.3 537) scale(1 1.02)">Con</text>
<line x1="63.4" x2="71" y1="528.18" y2="528.18" stroke="#333" stroke-width="2.845"/>
<text class="ax" text-anchor="end" transform="translate(57.3 568) scale(1 1.02)">Lab</text>
<line x1="63.4" x2="71" y1="558.83" y2="558.83" stroke="#333" stroke-width="2.845"/>
<text class="ax" text-anchor="end" transform="translate(57.3 598) scale(1 1.02)">Lib</text>
<line x1="63.4" x2="71" y1="589.48" y2="589.48" stroke="#333" stroke-width="2.845"/>
<line x1="109.95" x2="109.95" y1="509.83" y2="607.65" stroke="rgba(0,0,0,0.065)" stroke-width="1.42"/>
<line x1="163.85" x2="163.85" y1="509.83" y2="607.65" stroke="rgba(0,0,0,0.065)" stroke-width="1.42"/>
<line x1="217.75" x2="217.75" y1="509.83" y2="607.65" stroke="rgba(0,0,0,0.065)" stroke-width="1.42"/>
<line x1="271.65" x2="271.65" y1="509.83" y2="607.65" stroke="rgba(0,0,0,0.065)" stroke-width="1.42"/>
<line x1="325.55" x2="325.55" y1="509.83" y2="607.65" stroke="rgba(0,0,0,0.065)" stroke-width="1.42"/>
<line x1="83" x2="83" y1="509.83" y2="607.65" stroke="rgba(0,0,0,0.15)" stroke-width="2.845"/>
<line x1="136.9" x2="136.9" y1="509.83" y2="607.65" stroke="rgba(0,0,0,0.15)" stroke-width="2.845"/>
<line x1="190.8" x2="190.8" y1="509.83" y2="607.65" stroke="rgba(0,0,0,0.15)" stroke-width="2.845"/>
<line x1="244.7" x2="244.7" y1="509.83" y2="607.65" stroke="rgba(0,0,0,0.15)" stroke-width="2.845"/>
<line x1="298.6" x2="298.6" y1="509.83" y2="607.65" stroke="rgba(0,0,0,0.15)" stroke-width="2.845"/>
<line x1="71" x2="339" y1="528.18" y2="528.18" stroke="rgba(0,0,0,0.15)" stroke-width="2.845"/>
<line x1="71" x2="339" y1="558.83" y2="558.83" stroke="rgba(0,0,0,0.15)" stroke-width="2.845"/>
<line x1="71" x2="339" y1="589.48" y2="589.48" stroke="rgba(0,0,0,0.15)" stroke-width="2.845"/>
<line x1="83" x2="113" y1="558.83" y2="558.83" stroke="#DC0032" stroke-width="2.845" stroke-dasharray="11.38 11.38"/><circle cx="113" cy="558.83" r="6.25" fill="#DC0032"/><text class="lb" transform="translate(120.5 570) scale(1 1.04)">6</text>
<line x1="392.95" x2="392.95" y1="509.83" y2="607.65" stroke="rgba(0,0,0,0.065)" stroke-width="1.42"/>
<line x1="446.85" x2="446.85" y1="509.83" y2="607.65" stroke="rgba(0,0,0,0.065)" stroke-width="1.42"/>
<line x1="500.75" x2="500.75" y1="509.83" y2="607.65" stroke="rgba(0,0,0,0.065)" stroke-width="1.42"/>
<line x1="554.65" x2="554.65" y1="509.83" y2="607.65" stroke="rgba(0,0,0,0.065)" stroke-width="1.42"/>
<line x1="608.55" x2="608.55" y1="509.83" y2="607.65" stroke="rgba(0,0,0,0.065)" stroke-width="1.42"/>
<line x1="366" x2="366" y1="509.83" y2="607.65" stroke="rgba(0,0,0,0.15)" stroke-width="2.845"/>
<line x1="419.9" x2="419.9" y1="509.83" y2="607.65" stroke="rgba(0,0,0,0.15)" stroke-width="2.845"/>
<line x1="473.8" x2="473.8" y1="509.83" y2="607.65" stroke="rgba(0,0,0,0.15)" stroke-width="2.845"/>
<line x1="527.7" x2="527.7" y1="509.83" y2="607.65" stroke="rgba(0,0,0,0.15)" stroke-width="2.845"/>
<line x1="581.6" x2="581.6" y1="509.83" y2="607.65" stroke="rgba(0,0,0,0.15)" stroke-width="2.845"/>
<line x1="354" x2="622" y1="528.18" y2="528.18" stroke="rgba(0,0,0,0.15)" stroke-width="2.845"/>
<line x1="354" x2="622" y1="558.83" y2="558.83" stroke="rgba(0,0,0,0.15)" stroke-width="2.845"/>
<line x1="354" x2="622" y1="589.48" y2="589.48" stroke="rgba(0,0,0,0.15)" stroke-width="2.845"/>
<line x1="366" x2="406.75" y1="528.18" y2="528.18" stroke="#1170D6" stroke-width="2.845" stroke-dasharray="11.38 11.38"/><circle cx="406.75" cy="528.18" r="6.25" fill="#1170D6"/><text class="lb" transform="translate(414.25 539) scale(1 1.04)">5</text>
<line x1="366" x2="538.75" y1="558.83" y2="558.83" stroke="#DC0032" stroke-width="2.845" stroke-dasharray="11.38 11.38"/><circle cx="538.75" cy="558.83" r="6.25" fill="#DC0032"/><text class="lb" transform="translate(546.25 570) scale(1 1.04)" dx="0.91" clip-path="url(#k4)">1</text>
<line x1="675.95" x2="675.95" y1="509.83" y2="607.65" stroke="rgba(0,0,0,0.065)" stroke-width="1.42"/>
<line x1="729.85" x2="729.85" y1="509.83" y2="607.65" stroke="rgba(0,0,0,0.065)" stroke-width="1.42"/>
<line x1="783.75" x2="783.75" y1="509.83" y2="607.65" stroke="rgba(0,0,0,0.065)" stroke-width="1.42"/>
<line x1="837.65" x2="837.65" y1="509.83" y2="607.65" stroke="rgba(0,0,0,0.065)" stroke-width="1.42"/>
<line x1="891.55" x2="891.55" y1="509.83" y2="607.65" stroke="rgba(0,0,0,0.065)" stroke-width="1.42"/>
<line x1="649" x2="649" y1="509.83" y2="607.65" stroke="rgba(0,0,0,0.15)" stroke-width="2.845"/>
<line x1="702.9" x2="702.9" y1="509.83" y2="607.65" stroke="rgba(0,0,0,0.15)" stroke-width="2.845"/>
<line x1="756.8" x2="756.8" y1="509.83" y2="607.65" stroke="rgba(0,0,0,0.15)" stroke-width="2.845"/>
<line x1="810.7" x2="810.7" y1="509.83" y2="607.65" stroke="rgba(0,0,0,0.15)" stroke-width="2.845"/>
<line x1="864.6" x2="864.6" y1="509.83" y2="607.65" stroke="rgba(0,0,0,0.15)" stroke-width="2.845"/>
<line x1="637" x2="905" y1="528.18" y2="528.18" stroke="rgba(0,0,0,0.15)" stroke-width="2.845"/>
<line x1="637" x2="905" y1="558.83" y2="558.83" stroke="rgba(0,0,0,0.15)" stroke-width="2.845"/>
<line x1="637" x2="905" y1="589.48" y2="589.48" stroke="rgba(0,0,0,0.15)" stroke-width="2.845"/>
<line x1="958.95" x2="958.95" y1="509.83" y2="607.65" stroke="rgba(0,0,0,0.065)" stroke-width="1.42"/>
<line x1="1012.85" x2="1012.85" y1="509.83" y2="607.65" stroke="rgba(0,0,0,0.065)" stroke-width="1.42"/>
<line x1="1066.75" x2="1066.75" y1="509.83" y2="607.65" stroke="rgba(0,0,0,0.065)" stroke-width="1.42"/>
<line x1="1120.65" x2="1120.65" y1="509.83" y2="607.65" stroke="rgba(0,0,0,0.065)" stroke-width="1.42"/>
<line x1="1174.55" x2="1174.55" y1="509.83" y2="607.65" stroke="rgba(0,0,0,0.065)" stroke-width="1.42"/>
<line x1="932" x2="932" y1="509.83" y2="607.65" stroke="rgba(0,0,0,0.15)" stroke-width="2.845"/>
<line x1="985.9" x2="985.9" y1="509.83" y2="607.65" stroke="rgba(0,0,0,0.15)" stroke-width="2.845"/>
<line x1="1039.8" x2="1039.8" y1="509.83" y2="607.65" stroke="rgba(0,0,0,0.15)" stroke-width="2.845"/>
<line x1="1093.7" x2="1093.7" y1="509.83" y2="607.65" stroke="rgba(0,0,0,0.15)" stroke-width="2.845"/>
<line x1="1147.6" x2="1147.6" y1="509.83" y2="607.65" stroke="rgba(0,0,0,0.15)" stroke-width="2.845"/>
<line x1="920" x2="1188" y1="528.18" y2="528.18" stroke="rgba(0,0,0,0.15)" stroke-width="2.845"/>
<line x1="920" x2="1188" y1="558.83" y2="558.83" stroke="rgba(0,0,0,0.15)" stroke-width="2.845"/>
<line x1="920" x2="1188" y1="589.48" y2="589.48" stroke="rgba(0,0,0,0.15)" stroke-width="2.845"/>
<rect x="1188" y="622.38" width="45" height="97.82" fill="#D0D0D0"/>
<text class="st" text-anchor="middle" transform="translate(1202.1 672.19) rotate(90) scale(1 1.02)">Unemp</text>
<text class="ax" text-anchor="end" transform="translate(57.3 650) scale(1 1.02)">Con</text>
<line x1="63.4" x2="71" y1="640.73" y2="640.73" stroke="#333" stroke-width="2.845"/>
<text class="ax" text-anchor="end" transform="translate(57.3 680) scale(1 1.02)">Lab</text>
<line x1="63.4" x2="71" y1="671.38" y2="671.38" stroke="#333" stroke-width="2.845"/>
<text class="ax" text-anchor="end" transform="translate(57.3 711) scale(1 1.02)">Lib</text>
<line x1="63.4" x2="71" y1="702.02" y2="702.02" stroke="#333" stroke-width="2.845"/>
<line x1="109.95" x2="109.95" y1="622.38" y2="720.2" stroke="rgba(0,0,0,0.065)" stroke-width="1.42"/>
<line x1="163.85" x2="163.85" y1="622.38" y2="720.2" stroke="rgba(0,0,0,0.065)" stroke-width="1.42"/>
<line x1="217.75" x2="217.75" y1="622.38" y2="720.2" stroke="rgba(0,0,0,0.065)" stroke-width="1.42"/>
<line x1="271.65" x2="271.65" y1="622.38" y2="720.2" stroke="rgba(0,0,0,0.065)" stroke-width="1.42"/>
<line x1="325.55" x2="325.55" y1="622.38" y2="720.2" stroke="rgba(0,0,0,0.065)" stroke-width="1.42"/>
<line x1="83" x2="83" y1="622.38" y2="720.2" stroke="rgba(0,0,0,0.15)" stroke-width="2.845"/>
<line x1="136.9" x2="136.9" y1="622.38" y2="720.2" stroke="rgba(0,0,0,0.15)" stroke-width="2.845"/>
<line x1="190.8" x2="190.8" y1="622.38" y2="720.2" stroke="rgba(0,0,0,0.15)" stroke-width="2.845"/>
<line x1="244.7" x2="244.7" y1="622.38" y2="720.2" stroke="rgba(0,0,0,0.15)" stroke-width="2.845"/>
<line x1="298.6" x2="298.6" y1="622.38" y2="720.2" stroke="rgba(0,0,0,0.15)" stroke-width="2.845"/>
<line x1="71" x2="339" y1="640.73" y2="640.73" stroke="rgba(0,0,0,0.15)" stroke-width="2.845"/>
<line x1="71" x2="339" y1="671.38" y2="671.38" stroke="rgba(0,0,0,0.15)" stroke-width="2.845"/>
<line x1="71" x2="339" y1="702.02" y2="702.02" stroke="rgba(0,0,0,0.15)" stroke-width="2.845"/>
<line x1="392.95" x2="392.95" y1="622.38" y2="720.2" stroke="rgba(0,0,0,0.065)" stroke-width="1.42"/>
<line x1="446.85" x2="446.85" y1="622.38" y2="720.2" stroke="rgba(0,0,0,0.065)" stroke-width="1.42"/>
<line x1="500.75" x2="500.75" y1="622.38" y2="720.2" stroke="rgba(0,0,0,0.065)" stroke-width="1.42"/>
<line x1="554.65" x2="554.65" y1="622.38" y2="720.2" stroke="rgba(0,0,0,0.065)" stroke-width="1.42"/>
<line x1="608.55" x2="608.55" y1="622.38" y2="720.2" stroke="rgba(0,0,0,0.065)" stroke-width="1.42"/>
<line x1="366" x2="366" y1="622.38" y2="720.2" stroke="rgba(0,0,0,0.15)" stroke-width="2.845"/>
<line x1="419.9" x2="419.9" y1="622.38" y2="720.2" stroke="rgba(0,0,0,0.15)" stroke-width="2.845"/>
<line x1="473.8" x2="473.8" y1="622.38" y2="720.2" stroke="rgba(0,0,0,0.15)" stroke-width="2.845"/>
<line x1="527.7" x2="527.7" y1="622.38" y2="720.2" stroke="rgba(0,0,0,0.15)" stroke-width="2.845"/>
<line x1="581.6" x2="581.6" y1="622.38" y2="720.2" stroke="rgba(0,0,0,0.15)" stroke-width="2.845"/>
<line x1="354" x2="622" y1="640.73" y2="640.73" stroke="rgba(0,0,0,0.15)" stroke-width="2.845"/>
<line x1="354" x2="622" y1="671.38" y2="671.38" stroke="rgba(0,0,0,0.15)" stroke-width="2.845"/>
<line x1="354" x2="622" y1="702.02" y2="702.02" stroke="rgba(0,0,0,0.15)" stroke-width="2.845"/>
<line x1="366" x2="410" y1="671.38" y2="671.38" stroke="#DC0032" stroke-width="2.845"/><circle cx="410" cy="671.38" r="6.25" fill="#DC0032"/><text class="lb" transform="translate(417.5 682) scale(1 1.04)">5</text>
<line x1="675.95" x2="675.95" y1="622.38" y2="720.2" stroke="rgba(0,0,0,0.065)" stroke-width="1.42"/>
<line x1="729.85" x2="729.85" y1="622.38" y2="720.2" stroke="rgba(0,0,0,0.065)" stroke-width="1.42"/>
<line x1="783.75" x2="783.75" y1="622.38" y2="720.2" stroke="rgba(0,0,0,0.065)" stroke-width="1.42"/>
<line x1="837.65" x2="837.65" y1="622.38" y2="720.2" stroke="rgba(0,0,0,0.065)" stroke-width="1.42"/>
<line x1="891.55" x2="891.55" y1="622.38" y2="720.2" stroke="rgba(0,0,0,0.065)" stroke-width="1.42"/>
<line x1="649" x2="649" y1="622.38" y2="720.2" stroke="rgba(0,0,0,0.15)" stroke-width="2.845"/>
<line x1="702.9" x2="702.9" y1="622.38" y2="720.2" stroke="rgba(0,0,0,0.15)" stroke-width="2.845"/>
<line x1="756.8" x2="756.8" y1="622.38" y2="720.2" stroke="rgba(0,0,0,0.15)" stroke-width="2.845"/>
<line x1="810.7" x2="810.7" y1="622.38" y2="720.2" stroke="rgba(0,0,0,0.15)" stroke-width="2.845"/>
<line x1="864.6" x2="864.6" y1="622.38" y2="720.2" stroke="rgba(0,0,0,0.15)" stroke-width="2.845"/>
<line x1="637" x2="905" y1="640.73" y2="640.73" stroke="rgba(0,0,0,0.15)" stroke-width="2.845"/>
<line x1="637" x2="905" y1="671.38" y2="671.38" stroke="rgba(0,0,0,0.15)" stroke-width="2.845"/>
<line x1="637" x2="905" y1="702.02" y2="702.02" stroke="rgba(0,0,0,0.15)" stroke-width="2.845"/>
<line x1="649" x2="707.25" y1="640.73" y2="640.73" stroke="#1170D6" stroke-width="2.845" stroke-dasharray="11.38 11.38"/><circle cx="707.25" cy="640.73" r="6.25" fill="#1170D6"/><text class="lb" transform="translate(714.75 652) scale(1 1.04)">2</text>
<line x1="958.95" x2="958.95" y1="622.38" y2="720.2" stroke="rgba(0,0,0,0.065)" stroke-width="1.42"/>
<line x1="1012.85" x2="1012.85" y1="622.38" y2="720.2" stroke="rgba(0,0,0,0.065)" stroke-width="1.42"/>
<line x1="1066.75" x2="1066.75" y1="622.38" y2="720.2" stroke="rgba(0,0,0,0.065)" stroke-width="1.42"/>
<line x1="1120.65" x2="1120.65" y1="622.38" y2="720.2" stroke="rgba(0,0,0,0.065)" stroke-width="1.42"/>
<line x1="1174.55" x2="1174.55" y1="622.38" y2="720.2" stroke="rgba(0,0,0,0.065)" stroke-width="1.42"/>
<line x1="932" x2="932" y1="622.38" y2="720.2" stroke="rgba(0,0,0,0.15)" stroke-width="2.845"/>
<line x1="985.9" x2="985.9" y1="622.38" y2="720.2" stroke="rgba(0,0,0,0.15)" stroke-width="2.845"/>
<line x1="1039.8" x2="1039.8" y1="622.38" y2="720.2" stroke="rgba(0,0,0,0.15)" stroke-width="2.845"/>
<line x1="1093.7" x2="1093.7" y1="622.38" y2="720.2" stroke="rgba(0,0,0,0.15)" stroke-width="2.845"/>
<line x1="1147.6" x2="1147.6" y1="622.38" y2="720.2" stroke="rgba(0,0,0,0.15)" stroke-width="2.845"/>
<line x1="920" x2="1188" y1="640.73" y2="640.73" stroke="rgba(0,0,0,0.15)" stroke-width="2.845"/>
<line x1="920" x2="1188" y1="671.38" y2="671.38" stroke="rgba(0,0,0,0.15)" stroke-width="2.845"/>
<line x1="920" x2="1188" y1="702.02" y2="702.02" stroke="rgba(0,0,0,0.15)" stroke-width="2.845"/>
<line x1="932" x2="1034.5" y1="671.38" y2="671.38" stroke="#DC0032" stroke-width="2.845" stroke-dasharray="11.38 11.38"/><circle cx="1034.5" cy="671.38" r="6.25" fill="#DC0032"/><text class="lb" transform="translate(1042 682) scale(1 1.04)">4</text>
<rect x="1188" y="734.92" width="45" height="97.82" fill="#D0D0D0"/>
<text class="st" text-anchor="middle" transform="translate(1202.1 784.73) rotate(90) scale(1 1.02)">WC</text>
<text class="ax" text-anchor="end" transform="translate(57.3 762) scale(1 1.02)">Con</text>
<line x1="63.4" x2="71" y1="753.27" y2="753.27" stroke="#333" stroke-width="2.845"/>
<text class="ax" text-anchor="end" transform="translate(57.3 793) scale(1 1.02)">Lab</text>
<line x1="63.4" x2="71" y1="783.92" y2="783.92" stroke="#333" stroke-width="2.845"/>
<text class="ax" text-anchor="end" transform="translate(57.3 824) scale(1 1.02)">Lib</text>
<line x1="63.4" x2="71" y1="814.57" y2="814.57" stroke="#333" stroke-width="2.845"/>
<line x1="109.95" x2="109.95" y1="734.92" y2="832.74" stroke="rgba(0,0,0,0.065)" stroke-width="1.42"/>
<line x1="163.85" x2="163.85" y1="734.92" y2="832.74" stroke="rgba(0,0,0,0.065)" stroke-width="1.42"/>
<line x1="217.75" x2="217.75" y1="734.92" y2="832.74" stroke="rgba(0,0,0,0.065)" stroke-width="1.42"/>
<line x1="271.65" x2="271.65" y1="734.92" y2="832.74" stroke="rgba(0,0,0,0.065)" stroke-width="1.42"/>
<line x1="325.55" x2="325.55" y1="734.92" y2="832.74" stroke="rgba(0,0,0,0.065)" stroke-width="1.42"/>
<line x1="83" x2="83" y1="734.92" y2="832.74" stroke="rgba(0,0,0,0.15)" stroke-width="2.845"/>
<line x1="136.9" x2="136.9" y1="734.92" y2="832.74" stroke="rgba(0,0,0,0.15)" stroke-width="2.845"/>
<line x1="190.8" x2="190.8" y1="734.92" y2="832.74" stroke="rgba(0,0,0,0.15)" stroke-width="2.845"/>
<line x1="244.7" x2="244.7" y1="734.92" y2="832.74" stroke="rgba(0,0,0,0.15)" stroke-width="2.845"/>
<line x1="298.6" x2="298.6" y1="734.92" y2="832.74" stroke="rgba(0,0,0,0.15)" stroke-width="2.845"/>
<line x1="71" x2="339" y1="753.27" y2="753.27" stroke="rgba(0,0,0,0.15)" stroke-width="2.845"/>
<line x1="71" x2="339" y1="783.92" y2="783.92" stroke="rgba(0,0,0,0.15)" stroke-width="2.845"/>
<line x1="71" x2="339" y1="814.57" y2="814.57" stroke="rgba(0,0,0,0.15)" stroke-width="2.845"/>
<line x1="83" x2="121" y1="753.27" y2="753.27" stroke="#1170D6" stroke-width="2.845" stroke-dasharray="11.38 11.38"/><circle cx="121" cy="753.27" r="6.25" fill="#1170D6"/><text class="lb" transform="translate(128.5 764) scale(1 1.04)">5</text>
<line x1="83" x2="143.25" y1="783.92" y2="783.92" stroke="#DC0032" stroke-width="2.845"/><circle cx="143.25" cy="783.92" r="6.25" fill="#DC0032"/><text class="lb" transform="translate(150.75 795) scale(1 1.04)">4</text>
<line x1="392.95" x2="392.95" y1="734.92" y2="832.74" stroke="rgba(0,0,0,0.065)" stroke-width="1.42"/>
<line x1="446.85" x2="446.85" y1="734.92" y2="832.74" stroke="rgba(0,0,0,0.065)" stroke-width="1.42"/>
<line x1="500.75" x2="500.75" y1="734.92" y2="832.74" stroke="rgba(0,0,0,0.065)" stroke-width="1.42"/>
<line x1="554.65" x2="554.65" y1="734.92" y2="832.74" stroke="rgba(0,0,0,0.065)" stroke-width="1.42"/>
<line x1="608.55" x2="608.55" y1="734.92" y2="832.74" stroke="rgba(0,0,0,0.065)" stroke-width="1.42"/>
<line x1="366" x2="366" y1="734.92" y2="832.74" stroke="rgba(0,0,0,0.15)" stroke-width="2.845"/>
<line x1="419.9" x2="419.9" y1="734.92" y2="832.74" stroke="rgba(0,0,0,0.15)" stroke-width="2.845"/>
<line x1="473.8" x2="473.8" y1="734.92" y2="832.74" stroke="rgba(0,0,0,0.15)" stroke-width="2.845"/>
<line x1="527.7" x2="527.7" y1="734.92" y2="832.74" stroke="rgba(0,0,0,0.15)" stroke-width="2.845"/>
<line x1="581.6" x2="581.6" y1="734.92" y2="832.74" stroke="rgba(0,0,0,0.15)" stroke-width="2.845"/>
<line x1="354" x2="622" y1="753.27" y2="753.27" stroke="rgba(0,0,0,0.15)" stroke-width="2.845"/>
<line x1="354" x2="622" y1="783.92" y2="783.92" stroke="rgba(0,0,0,0.15)" stroke-width="2.845"/>
<line x1="354" x2="622" y1="814.57" y2="814.57" stroke="rgba(0,0,0,0.15)" stroke-width="2.845"/>
<line x1="366" x2="455.5" y1="753.27" y2="753.27" stroke="#1170D6" stroke-width="2.845" stroke-dasharray="11.38 11.38"/><circle cx="455.5" cy="753.27" r="6.25" fill="#1170D6"/><text class="lb" transform="translate(463 764) scale(1 1.04)">3</text>
<line x1="366" x2="418.75" y1="783.92" y2="783.92" stroke="#DC0032" stroke-width="2.845"/><circle cx="418.75" cy="783.92" r="6.25" fill="#DC0032"/><text class="lb" transform="translate(426.25 795) scale(1 1.04)">4</text>
<line x1="366" x2="418.25" y1="814.57" y2="814.57" stroke="#F7941D" stroke-width="2.845"/><circle cx="418.25" cy="814.57" r="6.25" fill="#F7941D"/><text class="lb" transform="translate(425.75 826) scale(1 1.04)">3</text>
<line x1="675.95" x2="675.95" y1="734.92" y2="832.74" stroke="rgba(0,0,0,0.065)" stroke-width="1.42"/>
<line x1="729.85" x2="729.85" y1="734.92" y2="832.74" stroke="rgba(0,0,0,0.065)" stroke-width="1.42"/>
<line x1="783.75" x2="783.75" y1="734.92" y2="832.74" stroke="rgba(0,0,0,0.065)" stroke-width="1.42"/>
<line x1="837.65" x2="837.65" y1="734.92" y2="832.74" stroke="rgba(0,0,0,0.065)" stroke-width="1.42"/>
<line x1="891.55" x2="891.55" y1="734.92" y2="832.74" stroke="rgba(0,0,0,0.065)" stroke-width="1.42"/>
<line x1="649" x2="649" y1="734.92" y2="832.74" stroke="rgba(0,0,0,0.15)" stroke-width="2.845"/>
<line x1="702.9" x2="702.9" y1="734.92" y2="832.74" stroke="rgba(0,0,0,0.15)" stroke-width="2.845"/>
<line x1="756.8" x2="756.8" y1="734.92" y2="832.74" stroke="rgba(0,0,0,0.15)" stroke-width="2.845"/>
<line x1="810.7" x2="810.7" y1="734.92" y2="832.74" stroke="rgba(0,0,0,0.15)" stroke-width="2.845"/>
<line x1="864.6" x2="864.6" y1="734.92" y2="832.74" stroke="rgba(0,0,0,0.15)" stroke-width="2.845"/>
<line x1="637" x2="905" y1="753.27" y2="753.27" stroke="rgba(0,0,0,0.15)" stroke-width="2.845"/>
<line x1="637" x2="905" y1="783.92" y2="783.92" stroke="rgba(0,0,0,0.15)" stroke-width="2.845"/>
<line x1="637" x2="905" y1="814.57" y2="814.57" stroke="rgba(0,0,0,0.15)" stroke-width="2.845"/>
<line x1="649" x2="676.75" y1="753.27" y2="753.27" stroke="#1170D6" stroke-width="2.845" stroke-dasharray="11.38 11.38"/><circle cx="676.75" cy="753.27" r="6.25" fill="#1170D6"/><text class="lb" transform="translate(684.25 764) scale(1 1.04)">8</text>
<line x1="649" x2="681.5" y1="783.92" y2="783.92" stroke="#DC0032" stroke-width="2.845"/><circle cx="681.5" cy="783.92" r="6.25" fill="#DC0032"/><text class="lb" transform="translate(689 795) scale(1 1.04)">4</text>
<line x1="958.95" x2="958.95" y1="734.92" y2="832.74" stroke="rgba(0,0,0,0.065)" stroke-width="1.42"/>
<line x1="1012.85" x2="1012.85" y1="734.92" y2="832.74" stroke="rgba(0,0,0,0.065)" stroke-width="1.42"/>
<line x1="1066.75" x2="1066.75" y1="734.92" y2="832.74" stroke="rgba(0,0,0,0.065)" stroke-width="1.42"/>
<line x1="1120.65" x2="1120.65" y1="734.92" y2="832.74" stroke="rgba(0,0,0,0.065)" stroke-width="1.42"/>
<line x1="1174.55" x2="1174.55" y1="734.92" y2="832.74" stroke="rgba(0,0,0,0.065)" stroke-width="1.42"/>
<line x1="932" x2="932" y1="734.92" y2="832.74" stroke="rgba(0,0,0,0.15)" stroke-width="2.845"/>
<line x1="985.9" x2="985.9" y1="734.92" y2="832.74" stroke="rgba(0,0,0,0.15)" stroke-width="2.845"/>
<line x1="1039.8" x2="1039.8" y1="734.92" y2="832.74" stroke="rgba(0,0,0,0.15)" stroke-width="2.845"/>
<line x1="1093.7" x2="1093.7" y1="734.92" y2="832.74" stroke="rgba(0,0,0,0.15)" stroke-width="2.845"/>
<line x1="1147.6" x2="1147.6" y1="734.92" y2="832.74" stroke="rgba(0,0,0,0.15)" stroke-width="2.845"/>
<line x1="920" x2="1188" y1="753.27" y2="753.27" stroke="rgba(0,0,0,0.15)" stroke-width="2.845"/>
<line x1="920" x2="1188" y1="783.92" y2="783.92" stroke="rgba(0,0,0,0.15)" stroke-width="2.845"/>
<line x1="920" x2="1188" y1="814.57" y2="814.57" stroke="rgba(0,0,0,0.15)" stroke-width="2.845"/>
<line x1="932" x2="954.25" y1="753.27" y2="753.27" stroke="#1170D6" stroke-width="2.845" stroke-dasharray="11.38 11.38"/><circle cx="954.25" cy="753.27" r="6.25" fill="#1170D6"/><text class="lb" transform="translate(961.75 764) scale(1 1.04)" dx="0.91" clip-path="url(#k4)">1</text>
<line x1="932" x2="1030" y1="783.92" y2="783.92" stroke="#DC0032" stroke-width="2.845"/><circle cx="1030" cy="783.92" r="6.25" fill="#DC0032"/><text class="lb" transform="translate(1037.5 795) scale(1 1.04)">5</text>
<line x1="932" x2="994" y1="814.57" y2="814.57" stroke="#F7941D" stroke-width="2.845" stroke-dasharray="11.38 11.38"/><circle cx="994" cy="814.57" r="6.25" fill="#F7941D"/><text class="lb" transform="translate(1001.5 826) scale(1 1.04)">4</text>
<rect x="1188" y="847.47" width="45" height="97.82" fill="#D0D0D0"/>
<text class="st" text-anchor="middle" transform="translate(1202.1 897.27) rotate(90) scale(1 1.02)">Yr</text>
<text class="ax" text-anchor="end" transform="translate(57.3 875) scale(1 1.02)">Con</text>
<line x1="63.4" x2="71" y1="865.82" y2="865.82" stroke="#333" stroke-width="2.845"/>
<text class="ax" text-anchor="end" transform="translate(57.3 905) scale(1 1.02)">Lab</text>
<line x1="63.4" x2="71" y1="896.47" y2="896.47" stroke="#333" stroke-width="2.845"/>
<text class="ax" text-anchor="end" transform="translate(57.3 936) scale(1 1.02)">Lib</text>
<line x1="63.4" x2="71" y1="927.12" y2="927.12" stroke="#333" stroke-width="2.845"/>
<line x1="109.95" x2="109.95" y1="847.47" y2="945.29" stroke="rgba(0,0,0,0.065)" stroke-width="1.42"/>
<line x1="163.85" x2="163.85" y1="847.47" y2="945.29" stroke="rgba(0,0,0,0.065)" stroke-width="1.42"/>
<line x1="217.75" x2="217.75" y1="847.47" y2="945.29" stroke="rgba(0,0,0,0.065)" stroke-width="1.42"/>
<line x1="271.65" x2="271.65" y1="847.47" y2="945.29" stroke="rgba(0,0,0,0.065)" stroke-width="1.42"/>
<line x1="325.55" x2="325.55" y1="847.47" y2="945.29" stroke="rgba(0,0,0,0.065)" stroke-width="1.42"/>
<line x1="83" x2="83" y1="847.47" y2="945.29" stroke="rgba(0,0,0,0.15)" stroke-width="2.845"/>
<line x1="136.9" x2="136.9" y1="847.47" y2="945.29" stroke="rgba(0,0,0,0.15)" stroke-width="2.845"/>
<line x1="190.8" x2="190.8" y1="847.47" y2="945.29" stroke="rgba(0,0,0,0.15)" stroke-width="2.845"/>
<line x1="244.7" x2="244.7" y1="847.47" y2="945.29" stroke="rgba(0,0,0,0.15)" stroke-width="2.845"/>
<line x1="298.6" x2="298.6" y1="847.47" y2="945.29" stroke="rgba(0,0,0,0.15)" stroke-width="2.845"/>
<line x1="71" x2="339" y1="865.82" y2="865.82" stroke="rgba(0,0,0,0.15)" stroke-width="2.845"/>
<line x1="71" x2="339" y1="896.47" y2="896.47" stroke="rgba(0,0,0,0.15)" stroke-width="2.845"/>
<line x1="71" x2="339" y1="927.12" y2="927.12" stroke="rgba(0,0,0,0.15)" stroke-width="2.845"/>
<line x1="83" x2="133" y1="865.82" y2="865.82" stroke="#1170D6" stroke-width="2.845" stroke-dasharray="11.38 11.38"/><circle cx="133" cy="865.82" r="6.25" fill="#1170D6"/><text class="lb" transform="translate(140.5 877) scale(1 1.04)">4</text>
<line x1="83" x2="101" y1="896.47" y2="896.47" stroke="#DC0032" stroke-width="2.845"/><circle cx="101" cy="896.47" r="6.25" fill="#DC0032"/><text class="lb" transform="translate(108.5 907) scale(1 1.04)">7</text>
<line x1="83" x2="163.5" y1="927.12" y2="927.12" stroke="#F7941D" stroke-width="2.845"/><circle cx="163.5" cy="927.12" r="6.25" fill="#F7941D"/><text class="lb" transform="translate(171 938) scale(1 1.04)" dx="0.91" clip-path="url(#k4)">1</text>
<line x1="392.95" x2="392.95" y1="847.47" y2="945.29" stroke="rgba(0,0,0,0.065)" stroke-width="1.42"/>
<line x1="446.85" x2="446.85" y1="847.47" y2="945.29" stroke="rgba(0,0,0,0.065)" stroke-width="1.42"/>
<line x1="500.75" x2="500.75" y1="847.47" y2="945.29" stroke="rgba(0,0,0,0.065)" stroke-width="1.42"/>
<line x1="554.65" x2="554.65" y1="847.47" y2="945.29" stroke="rgba(0,0,0,0.065)" stroke-width="1.42"/>
<line x1="608.55" x2="608.55" y1="847.47" y2="945.29" stroke="rgba(0,0,0,0.065)" stroke-width="1.42"/>
<line x1="366" x2="366" y1="847.47" y2="945.29" stroke="rgba(0,0,0,0.15)" stroke-width="2.845"/>
<line x1="419.9" x2="419.9" y1="847.47" y2="945.29" stroke="rgba(0,0,0,0.15)" stroke-width="2.845"/>
<line x1="473.8" x2="473.8" y1="847.47" y2="945.29" stroke="rgba(0,0,0,0.15)" stroke-width="2.845"/>
<line x1="527.7" x2="527.7" y1="847.47" y2="945.29" stroke="rgba(0,0,0,0.15)" stroke-width="2.845"/>
<line x1="581.6" x2="581.6" y1="847.47" y2="945.29" stroke="rgba(0,0,0,0.15)" stroke-width="2.845"/>
<line x1="354" x2="622" y1="865.82" y2="865.82" stroke="rgba(0,0,0,0.15)" stroke-width="2.845"/>
<line x1="354" x2="622" y1="896.47" y2="896.47" stroke="rgba(0,0,0,0.15)" stroke-width="2.845"/>
<line x1="354" x2="622" y1="927.12" y2="927.12" stroke="rgba(0,0,0,0.15)" stroke-width="2.845"/>
<line x1="366" x2="415" y1="865.82" y2="865.82" stroke="#1170D6" stroke-width="2.845" stroke-dasharray="11.38 11.38"/><circle cx="415" cy="865.82" r="6.25" fill="#1170D6"/><text class="lb" transform="translate(422.5 877) scale(1 1.04)">4</text>
<line x1="675.95" x2="675.95" y1="847.47" y2="945.29" stroke="rgba(0,0,0,0.065)" stroke-width="1.42"/>
<line x1="729.85" x2="729.85" y1="847.47" y2="945.29" stroke="rgba(0,0,0,0.065)" stroke-width="1.42"/>
<line x1="783.75" x2="783.75" y1="847.47" y2="945.29" stroke="rgba(0,0,0,0.065)" stroke-width="1.42"/>
<line x1="837.65" x2="837.65" y1="847.47" y2="945.29" stroke="rgba(0,0,0,0.065)" stroke-width="1.42"/>
<line x1="891.55" x2="891.55" y1="847.47" y2="945.29" stroke="rgba(0,0,0,0.065)" stroke-width="1.42"/>
<line x1="649" x2="649" y1="847.47" y2="945.29" stroke="rgba(0,0,0,0.15)" stroke-width="2.845"/>
<line x1="702.9" x2="702.9" y1="847.47" y2="945.29" stroke="rgba(0,0,0,0.15)" stroke-width="2.845"/>
<line x1="756.8" x2="756.8" y1="847.47" y2="945.29" stroke="rgba(0,0,0,0.15)" stroke-width="2.845"/>
<line x1="810.7" x2="810.7" y1="847.47" y2="945.29" stroke="rgba(0,0,0,0.15)" stroke-width="2.845"/>
<line x1="864.6" x2="864.6" y1="847.47" y2="945.29" stroke="rgba(0,0,0,0.15)" stroke-width="2.845"/>
<line x1="637" x2="905" y1="865.82" y2="865.82" stroke="rgba(0,0,0,0.15)" stroke-width="2.845"/>
<line x1="637" x2="905" y1="896.47" y2="896.47" stroke="rgba(0,0,0,0.15)" stroke-width="2.845"/>
<line x1="637" x2="905" y1="927.12" y2="927.12" stroke="rgba(0,0,0,0.15)" stroke-width="2.845"/>
<line x1="649" x2="695.5" y1="865.82" y2="865.82" stroke="#1170D6" stroke-width="2.845" stroke-dasharray="11.38 11.38"/><circle cx="695.5" cy="865.82" r="6.25" fill="#1170D6"/><text class="lb" transform="translate(703 877) scale(1 1.04)">3</text>
<line x1="958.95" x2="958.95" y1="847.47" y2="945.29" stroke="rgba(0,0,0,0.065)" stroke-width="1.42"/>
<line x1="1012.85" x2="1012.85" y1="847.47" y2="945.29" stroke="rgba(0,0,0,0.065)" stroke-width="1.42"/>
<line x1="1066.75" x2="1066.75" y1="847.47" y2="945.29" stroke="rgba(0,0,0,0.065)" stroke-width="1.42"/>
<line x1="1120.65" x2="1120.65" y1="847.47" y2="945.29" stroke="rgba(0,0,0,0.065)" stroke-width="1.42"/>
<line x1="1174.55" x2="1174.55" y1="847.47" y2="945.29" stroke="rgba(0,0,0,0.065)" stroke-width="1.42"/>
<line x1="932" x2="932" y1="847.47" y2="945.29" stroke="rgba(0,0,0,0.15)" stroke-width="2.845"/>
<line x1="985.9" x2="985.9" y1="847.47" y2="945.29" stroke="rgba(0,0,0,0.15)" stroke-width="2.845"/>
<line x1="1039.8" x2="1039.8" y1="847.47" y2="945.29" stroke="rgba(0,0,0,0.15)" stroke-width="2.845"/>
<line x1="1093.7" x2="1093.7" y1="847.47" y2="945.29" stroke="rgba(0,0,0,0.15)" stroke-width="2.845"/>
<line x1="1147.6" x2="1147.6" y1="847.47" y2="945.29" stroke="rgba(0,0,0,0.15)" stroke-width="2.845"/>
<line x1="920" x2="1188" y1="865.82" y2="865.82" stroke="rgba(0,0,0,0.15)" stroke-width="2.845"/>
<line x1="920" x2="1188" y1="896.47" y2="896.47" stroke="rgba(0,0,0,0.15)" stroke-width="2.845"/>
<line x1="920" x2="1188" y1="927.12" y2="927.12" stroke="rgba(0,0,0,0.15)" stroke-width="2.845"/>
<rect x="1188" y="960.01" width="45" height="97.82" fill="#D0D0D0"/>
<text class="st" text-anchor="middle" transform="translate(1202.1 1009.82) rotate(90) scale(1 1.02)">Ov&#39;crd</text>
<text class="ax" text-anchor="end" transform="translate(57.3 987) scale(1 1.02)">Con</text>
<line x1="63.4" x2="71" y1="978.36" y2="978.36" stroke="#333" stroke-width="2.845"/>
<text class="ax" text-anchor="end" transform="translate(57.3 1018) scale(1 1.02)">Lab</text>
<line x1="63.4" x2="71" y1="1009.01" y2="1009.01" stroke="#333" stroke-width="2.845"/>
<text class="ax" text-anchor="end" transform="translate(57.3 1049) scale(1 1.02)">Lib</text>
<line x1="63.4" x2="71" y1="1039.66" y2="1039.66" stroke="#333" stroke-width="2.845"/>
<line x1="109.95" x2="109.95" y1="960.01" y2="1057.83" stroke="rgba(0,0,0,0.065)" stroke-width="1.42"/>
<line x1="163.85" x2="163.85" y1="960.01" y2="1057.83" stroke="rgba(0,0,0,0.065)" stroke-width="1.42"/>
<line x1="217.75" x2="217.75" y1="960.01" y2="1057.83" stroke="rgba(0,0,0,0.065)" stroke-width="1.42"/>
<line x1="271.65" x2="271.65" y1="960.01" y2="1057.83" stroke="rgba(0,0,0,0.065)" stroke-width="1.42"/>
<line x1="325.55" x2="325.55" y1="960.01" y2="1057.83" stroke="rgba(0,0,0,0.065)" stroke-width="1.42"/>
<line x1="83" x2="83" y1="960.01" y2="1057.83" stroke="rgba(0,0,0,0.15)" stroke-width="2.845"/>
<line x1="136.9" x2="136.9" y1="960.01" y2="1057.83" stroke="rgba(0,0,0,0.15)" stroke-width="2.845"/>
<line x1="190.8" x2="190.8" y1="960.01" y2="1057.83" stroke="rgba(0,0,0,0.15)" stroke-width="2.845"/>
<line x1="244.7" x2="244.7" y1="960.01" y2="1057.83" stroke="rgba(0,0,0,0.15)" stroke-width="2.845"/>
<line x1="298.6" x2="298.6" y1="960.01" y2="1057.83" stroke="rgba(0,0,0,0.15)" stroke-width="2.845"/>
<line x1="71" x2="339" y1="978.36" y2="978.36" stroke="rgba(0,0,0,0.15)" stroke-width="2.845"/>
<line x1="71" x2="339" y1="1009.01" y2="1009.01" stroke="rgba(0,0,0,0.15)" stroke-width="2.845"/>
<line x1="71" x2="339" y1="1039.66" y2="1039.66" stroke="rgba(0,0,0,0.15)" stroke-width="2.845"/>
<line x1="83" x2="98.5" y1="978.36" y2="978.36" stroke="#1170D6" stroke-width="2.845"/><circle cx="98.5" cy="978.36" r="6.25" fill="#1170D6"/><text class="lb" transform="translate(106 989) scale(1 1.04)">8</text>
<line x1="83" x2="125.5" y1="1039.66" y2="1039.66" stroke="#F7941D" stroke-width="2.845"/><circle cx="125.5" cy="1039.66" r="6.25" fill="#F7941D"/><text class="lb" transform="translate(133 1051) scale(1 1.04)">3</text>
<line x1="392.95" x2="392.95" y1="960.01" y2="1057.83" stroke="rgba(0,0,0,0.065)" stroke-width="1.42"/>
<line x1="446.85" x2="446.85" y1="960.01" y2="1057.83" stroke="rgba(0,0,0,0.065)" stroke-width="1.42"/>
<line x1="500.75" x2="500.75" y1="960.01" y2="1057.83" stroke="rgba(0,0,0,0.065)" stroke-width="1.42"/>
<line x1="554.65" x2="554.65" y1="960.01" y2="1057.83" stroke="rgba(0,0,0,0.065)" stroke-width="1.42"/>
<line x1="608.55" x2="608.55" y1="960.01" y2="1057.83" stroke="rgba(0,0,0,0.065)" stroke-width="1.42"/>
<line x1="366" x2="366" y1="960.01" y2="1057.83" stroke="rgba(0,0,0,0.15)" stroke-width="2.845"/>
<line x1="419.9" x2="419.9" y1="960.01" y2="1057.83" stroke="rgba(0,0,0,0.15)" stroke-width="2.845"/>
<line x1="473.8" x2="473.8" y1="960.01" y2="1057.83" stroke="rgba(0,0,0,0.15)" stroke-width="2.845"/>
<line x1="527.7" x2="527.7" y1="960.01" y2="1057.83" stroke="rgba(0,0,0,0.15)" stroke-width="2.845"/>
<line x1="581.6" x2="581.6" y1="960.01" y2="1057.83" stroke="rgba(0,0,0,0.15)" stroke-width="2.845"/>
<line x1="354" x2="622" y1="978.36" y2="978.36" stroke="rgba(0,0,0,0.15)" stroke-width="2.845"/>
<line x1="354" x2="622" y1="1009.01" y2="1009.01" stroke="rgba(0,0,0,0.15)" stroke-width="2.845"/>
<line x1="354" x2="622" y1="1039.66" y2="1039.66" stroke="rgba(0,0,0,0.15)" stroke-width="2.845"/>
<line x1="366" x2="391.75" y1="978.36" y2="978.36" stroke="#1170D6" stroke-width="2.845" stroke-dasharray="11.38 11.38"/><circle cx="391.75" cy="978.36" r="6.25" fill="#1170D6"/><text class="lb" transform="translate(399.25 989) scale(1 1.04)">8</text>
<line x1="366" x2="405.5" y1="1009.01" y2="1009.01" stroke="#DC0032" stroke-width="2.845"/><circle cx="405.5" cy="1009.01" r="6.25" fill="#DC0032"/><text class="lb" transform="translate(413 1020) scale(1 1.04)">6</text>
<line x1="675.95" x2="675.95" y1="960.01" y2="1057.83" stroke="rgba(0,0,0,0.065)" stroke-width="1.42"/>
<line x1="729.85" x2="729.85" y1="960.01" y2="1057.83" stroke="rgba(0,0,0,0.065)" stroke-width="1.42"/>
<line x1="783.75" x2="783.75" y1="960.01" y2="1057.83" stroke="rgba(0,0,0,0.065)" stroke-width="1.42"/>
<line x1="837.65" x2="837.65" y1="960.01" y2="1057.83" stroke="rgba(0,0,0,0.065)" stroke-width="1.42"/>
<line x1="891.55" x2="891.55" y1="960.01" y2="1057.83" stroke="rgba(0,0,0,0.065)" stroke-width="1.42"/>
<line x1="649" x2="649" y1="960.01" y2="1057.83" stroke="rgba(0,0,0,0.15)" stroke-width="2.845"/>
<line x1="702.9" x2="702.9" y1="960.01" y2="1057.83" stroke="rgba(0,0,0,0.15)" stroke-width="2.845"/>
<line x1="756.8" x2="756.8" y1="960.01" y2="1057.83" stroke="rgba(0,0,0,0.15)" stroke-width="2.845"/>
<line x1="810.7" x2="810.7" y1="960.01" y2="1057.83" stroke="rgba(0,0,0,0.15)" stroke-width="2.845"/>
<line x1="864.6" x2="864.6" y1="960.01" y2="1057.83" stroke="rgba(0,0,0,0.15)" stroke-width="2.845"/>
<line x1="637" x2="905" y1="978.36" y2="978.36" stroke="rgba(0,0,0,0.15)" stroke-width="2.845"/>
<line x1="637" x2="905" y1="1009.01" y2="1009.01" stroke="rgba(0,0,0,0.15)" stroke-width="2.845"/>
<line x1="637" x2="905" y1="1039.66" y2="1039.66" stroke="rgba(0,0,0,0.15)" stroke-width="2.845"/>
<line x1="649" x2="702.25" y1="1039.66" y2="1039.66" stroke="#F7941D" stroke-width="2.845"/><circle cx="702.25" cy="1039.66" r="6.25" fill="#F7941D"/><text class="lb" transform="translate(709.75 1051) scale(1 1.04)">4</text>
<line x1="958.95" x2="958.95" y1="960.01" y2="1057.83" stroke="rgba(0,0,0,0.065)" stroke-width="1.42"/>
<line x1="1012.85" x2="1012.85" y1="960.01" y2="1057.83" stroke="rgba(0,0,0,0.065)" stroke-width="1.42"/>
<line x1="1066.75" x2="1066.75" y1="960.01" y2="1057.83" stroke="rgba(0,0,0,0.065)" stroke-width="1.42"/>
<line x1="1120.65" x2="1120.65" y1="960.01" y2="1057.83" stroke="rgba(0,0,0,0.065)" stroke-width="1.42"/>
<line x1="1174.55" x2="1174.55" y1="960.01" y2="1057.83" stroke="rgba(0,0,0,0.065)" stroke-width="1.42"/>
<line x1="932" x2="932" y1="960.01" y2="1057.83" stroke="rgba(0,0,0,0.15)" stroke-width="2.845"/>
<line x1="985.9" x2="985.9" y1="960.01" y2="1057.83" stroke="rgba(0,0,0,0.15)" stroke-width="2.845"/>
<line x1="1039.8" x2="1039.8" y1="960.01" y2="1057.83" stroke="rgba(0,0,0,0.15)" stroke-width="2.845"/>
<line x1="1093.7" x2="1093.7" y1="960.01" y2="1057.83" stroke="rgba(0,0,0,0.15)" stroke-width="2.845"/>
<line x1="1147.6" x2="1147.6" y1="960.01" y2="1057.83" stroke="rgba(0,0,0,0.15)" stroke-width="2.845"/>
<line x1="920" x2="1188" y1="978.36" y2="978.36" stroke="rgba(0,0,0,0.15)" stroke-width="2.845"/>
<line x1="920" x2="1188" y1="1009.01" y2="1009.01" stroke="rgba(0,0,0,0.15)" stroke-width="2.845"/>
<line x1="920" x2="1188" y1="1039.66" y2="1039.66" stroke="rgba(0,0,0,0.15)" stroke-width="2.845"/>
<line x1="932" x2="972" y1="1039.66" y2="1039.66" stroke="#F7941D" stroke-width="2.845"/><circle cx="972" cy="1039.66" r="6.25" fill="#F7941D"/><text class="lb" transform="translate(979.5 1051) scale(1 1.04)">5</text>
<rect x="1188" y="1072.56" width="45" height="97.82" fill="#D0D0D0"/>
<text class="st" text-anchor="middle" transform="translate(1202.1 1122.37) rotate(90) scale(1 1.02)">Men</text>
<text class="ax" text-anchor="end" transform="translate(57.3 1100) scale(1 1.02)">Con</text>
<line x1="63.4" x2="71" y1="1090.9" y2="1090.9" stroke="#333" stroke-width="2.845"/>
<text class="ax" text-anchor="end" transform="translate(57.3 1131) scale(1 1.02)">Lab</text>
<line x1="63.4" x2="71" y1="1121.56" y2="1121.56" stroke="#333" stroke-width="2.845"/>
<text class="ax" text-anchor="end" transform="translate(57.3 1161) scale(1 1.02)">Lib</text>
<line x1="63.4" x2="71" y1="1152.2" y2="1152.2" stroke="#333" stroke-width="2.845"/>
<line x1="109.95" x2="109.95" y1="1072.56" y2="1170.38" stroke="rgba(0,0,0,0.065)" stroke-width="1.42"/>
<line x1="163.85" x2="163.85" y1="1072.56" y2="1170.38" stroke="rgba(0,0,0,0.065)" stroke-width="1.42"/>
<line x1="217.75" x2="217.75" y1="1072.56" y2="1170.38" stroke="rgba(0,0,0,0.065)" stroke-width="1.42"/>
<line x1="271.65" x2="271.65" y1="1072.56" y2="1170.38" stroke="rgba(0,0,0,0.065)" stroke-width="1.42"/>
<line x1="325.55" x2="325.55" y1="1072.56" y2="1170.38" stroke="rgba(0,0,0,0.065)" stroke-width="1.42"/>
<line x1="83" x2="83" y1="1072.56" y2="1170.38" stroke="rgba(0,0,0,0.15)" stroke-width="2.845"/>
<line x1="136.9" x2="136.9" y1="1072.56" y2="1170.38" stroke="rgba(0,0,0,0.15)" stroke-width="2.845"/>
<line x1="190.8" x2="190.8" y1="1072.56" y2="1170.38" stroke="rgba(0,0,0,0.15)" stroke-width="2.845"/>
<line x1="244.7" x2="244.7" y1="1072.56" y2="1170.38" stroke="rgba(0,0,0,0.15)" stroke-width="2.845"/>
<line x1="298.6" x2="298.6" y1="1072.56" y2="1170.38" stroke="rgba(0,0,0,0.15)" stroke-width="2.845"/>
<line x1="71" x2="339" y1="1090.9" y2="1090.9" stroke="rgba(0,0,0,0.15)" stroke-width="2.845"/>
<line x1="71" x2="339" y1="1121.56" y2="1121.56" stroke="rgba(0,0,0,0.15)" stroke-width="2.845"/>
<line x1="71" x2="339" y1="1152.2" y2="1152.2" stroke="rgba(0,0,0,0.15)" stroke-width="2.845"/>
<line x1="83" x2="104.25" y1="1090.9" y2="1090.9" stroke="#1170D6" stroke-width="2.845" stroke-dasharray="11.38 11.38"/><circle cx="104.25" cy="1090.9" r="6.25" fill="#1170D6"/><text class="lb" transform="translate(111.75 1102) scale(1 1.04)">6</text>
<line x1="83" x2="117.25" y1="1121.56" y2="1121.56" stroke="#DC0032" stroke-width="2.845"/><circle cx="117.25" cy="1121.56" r="6.25" fill="#DC0032"/><text class="lb" transform="translate(124.75 1133) scale(1 1.04)">5</text>
<line x1="392.95" x2="392.95" y1="1072.56" y2="1170.38" stroke="rgba(0,0,0,0.065)" stroke-width="1.42"/>
<line x1="446.85" x2="446.85" y1="1072.56" y2="1170.38" stroke="rgba(0,0,0,0.065)" stroke-width="1.42"/>
<line x1="500.75" x2="500.75" y1="1072.56" y2="1170.38" stroke="rgba(0,0,0,0.065)" stroke-width="1.42"/>
<line x1="554.65" x2="554.65" y1="1072.56" y2="1170.38" stroke="rgba(0,0,0,0.065)" stroke-width="1.42"/>
<line x1="608.55" x2="608.55" y1="1072.56" y2="1170.38" stroke="rgba(0,0,0,0.065)" stroke-width="1.42"/>
<line x1="366" x2="366" y1="1072.56" y2="1170.38" stroke="rgba(0,0,0,0.15)" stroke-width="2.845"/>
<line x1="419.9" x2="419.9" y1="1072.56" y2="1170.38" stroke="rgba(0,0,0,0.15)" stroke-width="2.845"/>
<line x1="473.8" x2="473.8" y1="1072.56" y2="1170.38" stroke="rgba(0,0,0,0.15)" stroke-width="2.845"/>
<line x1="527.7" x2="527.7" y1="1072.56" y2="1170.38" stroke="rgba(0,0,0,0.15)" stroke-width="2.845"/>
<line x1="581.6" x2="581.6" y1="1072.56" y2="1170.38" stroke="rgba(0,0,0,0.15)" stroke-width="2.845"/>
<line x1="354" x2="622" y1="1090.9" y2="1090.9" stroke="rgba(0,0,0,0.15)" stroke-width="2.845"/>
<line x1="354" x2="622" y1="1121.56" y2="1121.56" stroke="rgba(0,0,0,0.15)" stroke-width="2.845"/>
<line x1="354" x2="622" y1="1152.2" y2="1152.2" stroke="rgba(0,0,0,0.15)" stroke-width="2.845"/>
<line x1="366" x2="401.75" y1="1090.9" y2="1090.9" stroke="#1170D6" stroke-width="2.845"/><circle cx="401.75" cy="1090.9" r="6.25" fill="#1170D6"/><text class="lb" transform="translate(409.25 1102) scale(1 1.04)">7</text>
<line x1="366" x2="419.75" y1="1152.2" y2="1152.2" stroke="#F7941D" stroke-width="2.845" stroke-dasharray="11.38 11.38"/><circle cx="419.75" cy="1152.2" r="6.25" fill="#F7941D"/><text class="lb" transform="translate(427.25 1163) scale(1 1.04)">2</text>
<line x1="675.95" x2="675.95" y1="1072.56" y2="1170.38" stroke="rgba(0,0,0,0.065)" stroke-width="1.42"/>
<line x1="729.85" x2="729.85" y1="1072.56" y2="1170.38" stroke="rgba(0,0,0,0.065)" stroke-width="1.42"/>
<line x1="783.75" x2="783.75" y1="1072.56" y2="1170.38" stroke="rgba(0,0,0,0.065)" stroke-width="1.42"/>
<line x1="837.65" x2="837.65" y1="1072.56" y2="1170.38" stroke="rgba(0,0,0,0.065)" stroke-width="1.42"/>
<line x1="891.55" x2="891.55" y1="1072.56" y2="1170.38" stroke="rgba(0,0,0,0.065)" stroke-width="1.42"/>
<line x1="649" x2="649" y1="1072.56" y2="1170.38" stroke="rgba(0,0,0,0.15)" stroke-width="2.845"/>
<line x1="702.9" x2="702.9" y1="1072.56" y2="1170.38" stroke="rgba(0,0,0,0.15)" stroke-width="2.845"/>
<line x1="756.8" x2="756.8" y1="1072.56" y2="1170.38" stroke="rgba(0,0,0,0.15)" stroke-width="2.845"/>
<line x1="810.7" x2="810.7" y1="1072.56" y2="1170.38" stroke="rgba(0,0,0,0.15)" stroke-width="2.845"/>
<line x1="864.6" x2="864.6" y1="1072.56" y2="1170.38" stroke="rgba(0,0,0,0.15)" stroke-width="2.845"/>
<line x1="637" x2="905" y1="1090.9" y2="1090.9" stroke="rgba(0,0,0,0.15)" stroke-width="2.845"/>
<line x1="637" x2="905" y1="1121.56" y2="1121.56" stroke="rgba(0,0,0,0.15)" stroke-width="2.845"/>
<line x1="637" x2="905" y1="1152.2" y2="1152.2" stroke="rgba(0,0,0,0.15)" stroke-width="2.845"/>
<line x1="649" x2="657.5" y1="1090.9" y2="1090.9" stroke="#1170D6" stroke-width="2.845"/><circle cx="657.5" cy="1090.9" r="6.25" fill="#1170D6"/><text class="lb" transform="translate(665 1102) scale(1 1.04)">9</text>
<line x1="649" x2="708.5" y1="1152.2" y2="1152.2" stroke="#F7941D" stroke-width="2.845" stroke-dasharray="11.38 11.38"/><circle cx="708.5" cy="1152.2" r="6.25" fill="#F7941D"/><text class="lb" transform="translate(716 1163) scale(1 1.04)">3</text>
<line x1="958.95" x2="958.95" y1="1072.56" y2="1170.38" stroke="rgba(0,0,0,0.065)" stroke-width="1.42"/>
<line x1="1012.85" x2="1012.85" y1="1072.56" y2="1170.38" stroke="rgba(0,0,0,0.065)" stroke-width="1.42"/>
<line x1="1066.75" x2="1066.75" y1="1072.56" y2="1170.38" stroke="rgba(0,0,0,0.065)" stroke-width="1.42"/>
<line x1="1120.65" x2="1120.65" y1="1072.56" y2="1170.38" stroke="rgba(0,0,0,0.065)" stroke-width="1.42"/>
<line x1="1174.55" x2="1174.55" y1="1072.56" y2="1170.38" stroke="rgba(0,0,0,0.065)" stroke-width="1.42"/>
<line x1="932" x2="932" y1="1072.56" y2="1170.38" stroke="rgba(0,0,0,0.15)" stroke-width="2.845"/>
<line x1="985.9" x2="985.9" y1="1072.56" y2="1170.38" stroke="rgba(0,0,0,0.15)" stroke-width="2.845"/>
<line x1="1039.8" x2="1039.8" y1="1072.56" y2="1170.38" stroke="rgba(0,0,0,0.15)" stroke-width="2.845"/>
<line x1="1093.7" x2="1093.7" y1="1072.56" y2="1170.38" stroke="rgba(0,0,0,0.15)" stroke-width="2.845"/>
<line x1="1147.6" x2="1147.6" y1="1072.56" y2="1170.38" stroke="rgba(0,0,0,0.15)" stroke-width="2.845"/>
<line x1="920" x2="1188" y1="1090.9" y2="1090.9" stroke="rgba(0,0,0,0.15)" stroke-width="2.845"/>
<line x1="920" x2="1188" y1="1121.56" y2="1121.56" stroke="rgba(0,0,0,0.15)" stroke-width="2.845"/>
<line x1="920" x2="1188" y1="1152.2" y2="1152.2" stroke="rgba(0,0,0,0.15)" stroke-width="2.845"/>
<line x1="932" x2="968.5" y1="1121.56" y2="1121.56" stroke="#DC0032" stroke-width="2.845" stroke-dasharray="11.38 11.38"/><circle cx="968.5" cy="1121.56" r="6.25" fill="#DC0032"/><text class="lb" transform="translate(976 1133) scale(1 1.04)">7</text>
<rect x="1188" y="1185.1" width="45" height="97.82" fill="#D0D0D0"/>
<text class="st" text-anchor="middle" transform="translate(1202.1 1234.91) rotate(90) scale(1 1.02)">45+</text>
<text class="ax" text-anchor="end" transform="translate(57.3 1212) scale(1 1.02)">Con</text>
<line x1="63.4" x2="71" y1="1203.45" y2="1203.45" stroke="#333" stroke-width="2.845"/>
<text class="ax" text-anchor="end" transform="translate(57.3 1243) scale(1 1.02)">Lab</text>
<line x1="63.4" x2="71" y1="1234.1" y2="1234.1" stroke="#333" stroke-width="2.845"/>
<text class="ax" text-anchor="end" transform="translate(57.3 1274) scale(1 1.02)">Lib</text>
<line x1="63.4" x2="71" y1="1264.75" y2="1264.75" stroke="#333" stroke-width="2.845"/>
<line x1="109.95" x2="109.95" y1="1185.1" y2="1282.92" stroke="rgba(0,0,0,0.065)" stroke-width="1.42"/>
<line x1="163.85" x2="163.85" y1="1185.1" y2="1282.92" stroke="rgba(0,0,0,0.065)" stroke-width="1.42"/>
<line x1="217.75" x2="217.75" y1="1185.1" y2="1282.92" stroke="rgba(0,0,0,0.065)" stroke-width="1.42"/>
<line x1="271.65" x2="271.65" y1="1185.1" y2="1282.92" stroke="rgba(0,0,0,0.065)" stroke-width="1.42"/>
<line x1="325.55" x2="325.55" y1="1185.1" y2="1282.92" stroke="rgba(0,0,0,0.065)" stroke-width="1.42"/>
<line x1="83" x2="83" y1="1185.1" y2="1282.92" stroke="rgba(0,0,0,0.15)" stroke-width="2.845"/>
<line x1="136.9" x2="136.9" y1="1185.1" y2="1282.92" stroke="rgba(0,0,0,0.15)" stroke-width="2.845"/>
<line x1="190.8" x2="190.8" y1="1185.1" y2="1282.92" stroke="rgba(0,0,0,0.15)" stroke-width="2.845"/>
<line x1="244.7" x2="244.7" y1="1185.1" y2="1282.92" stroke="rgba(0,0,0,0.15)" stroke-width="2.845"/>
<line x1="298.6" x2="298.6" y1="1185.1" y2="1282.92" stroke="rgba(0,0,0,0.15)" stroke-width="2.845"/>
<line x1="71" x2="339" y1="1203.45" y2="1203.45" stroke="rgba(0,0,0,0.15)" stroke-width="2.845"/>
<line x1="71" x2="339" y1="1234.1" y2="1234.1" stroke="rgba(0,0,0,0.15)" stroke-width="2.845"/>
<line x1="71" x2="339" y1="1264.75" y2="1264.75" stroke="rgba(0,0,0,0.15)" stroke-width="2.845"/>
<line x1="83" x2="99" y1="1203.45" y2="1203.45" stroke="#1170D6" stroke-width="2.845"/><circle cx="99" cy="1203.45" r="6.25" fill="#1170D6"/><text class="lb" transform="translate(106.5 1214) scale(1 1.04)">7</text>
<line x1="83" x2="117.5" y1="1264.75" y2="1264.75" stroke="#F7941D" stroke-width="2.845"/><circle cx="117.5" cy="1264.75" r="6.25" fill="#F7941D"/><text class="lb" transform="translate(125 1276) scale(1 1.04)">5</text>
<line x1="392.95" x2="392.95" y1="1185.1" y2="1282.92" stroke="rgba(0,0,0,0.065)" stroke-width="1.42"/>
<line x1="446.85" x2="446.85" y1="1185.1" y2="1282.92" stroke="rgba(0,0,0,0.065)" stroke-width="1.42"/>
<line x1="500.75" x2="500.75" y1="1185.1" y2="1282.92" stroke="rgba(0,0,0,0.065)" stroke-width="1.42"/>
<line x1="554.65" x2="554.65" y1="1185.1" y2="1282.92" stroke="rgba(0,0,0,0.065)" stroke-width="1.42"/>
<line x1="608.55" x2="608.55" y1="1185.1" y2="1282.92" stroke="rgba(0,0,0,0.065)" stroke-width="1.42"/>
<line x1="366" x2="366" y1="1185.1" y2="1282.92" stroke="rgba(0,0,0,0.15)" stroke-width="2.845"/>
<line x1="419.9" x2="419.9" y1="1185.1" y2="1282.92" stroke="rgba(0,0,0,0.15)" stroke-width="2.845"/>
<line x1="473.8" x2="473.8" y1="1185.1" y2="1282.92" stroke="rgba(0,0,0,0.15)" stroke-width="2.845"/>
<line x1="527.7" x2="527.7" y1="1185.1" y2="1282.92" stroke="rgba(0,0,0,0.15)" stroke-width="2.845"/>
<line x1="581.6" x2="581.6" y1="1185.1" y2="1282.92" stroke="rgba(0,0,0,0.15)" stroke-width="2.845"/>
<line x1="354" x2="622" y1="1203.45" y2="1203.45" stroke="rgba(0,0,0,0.15)" stroke-width="2.845"/>
<line x1="354" x2="622" y1="1234.1" y2="1234.1" stroke="rgba(0,0,0,0.15)" stroke-width="2.845"/>
<line x1="354" x2="622" y1="1264.75" y2="1264.75" stroke="rgba(0,0,0,0.15)" stroke-width="2.845"/>
<line x1="366" x2="405.5" y1="1203.45" y2="1203.45" stroke="#1170D6" stroke-width="2.845"/><circle cx="405.5" cy="1203.45" r="6.25" fill="#1170D6"/><text class="lb" transform="translate(413 1214) scale(1 1.04)">6</text>
<line x1="366" x2="405.75" y1="1264.75" y2="1264.75" stroke="#F7941D" stroke-width="2.845" stroke-dasharray="11.38 11.38"/><circle cx="405.75" cy="1264.75" r="6.25" fill="#F7941D"/><text class="lb" transform="translate(413.25 1276) scale(1 1.04)">4</text>
<line x1="675.95" x2="675.95" y1="1185.1" y2="1282.92" stroke="rgba(0,0,0,0.065)" stroke-width="1.42"/>
<line x1="729.85" x2="729.85" y1="1185.1" y2="1282.92" stroke="rgba(0,0,0,0.065)" stroke-width="1.42"/>
<line x1="783.75" x2="783.75" y1="1185.1" y2="1282.92" stroke="rgba(0,0,0,0.065)" stroke-width="1.42"/>
<line x1="837.65" x2="837.65" y1="1185.1" y2="1282.92" stroke="rgba(0,0,0,0.065)" stroke-width="1.42"/>
<line x1="891.55" x2="891.55" y1="1185.1" y2="1282.92" stroke="rgba(0,0,0,0.065)" stroke-width="1.42"/>
<line x1="649" x2="649" y1="1185.1" y2="1282.92" stroke="rgba(0,0,0,0.15)" stroke-width="2.845"/>
<line x1="702.9" x2="702.9" y1="1185.1" y2="1282.92" stroke="rgba(0,0,0,0.15)" stroke-width="2.845"/>
<line x1="756.8" x2="756.8" y1="1185.1" y2="1282.92" stroke="rgba(0,0,0,0.15)" stroke-width="2.845"/>
<line x1="810.7" x2="810.7" y1="1185.1" y2="1282.92" stroke="rgba(0,0,0,0.15)" stroke-width="2.845"/>
<line x1="864.6" x2="864.6" y1="1185.1" y2="1282.92" stroke="rgba(0,0,0,0.15)" stroke-width="2.845"/>
<line x1="637" x2="905" y1="1203.45" y2="1203.45" stroke="rgba(0,0,0,0.15)" stroke-width="2.845"/>
<line x1="637" x2="905" y1="1234.1" y2="1234.1" stroke="rgba(0,0,0,0.15)" stroke-width="2.845"/>
<line x1="637" x2="905" y1="1264.75" y2="1264.75" stroke="rgba(0,0,0,0.15)" stroke-width="2.845"/>
<line x1="649" x2="684" y1="1203.45" y2="1203.45" stroke="#1170D6" stroke-width="2.845"/><circle cx="684" cy="1203.45" r="6.25" fill="#1170D6"/><text class="lb" transform="translate(691.5 1214) scale(1 1.04)">5</text>
<line x1="649" x2="679.75" y1="1264.75" y2="1264.75" stroke="#F7941D" stroke-width="2.845" stroke-dasharray="11.38 11.38"/><circle cx="679.75" cy="1264.75" r="6.25" fill="#F7941D"/><text class="lb" transform="translate(687.25 1276) scale(1 1.04)">6</text>
<line x1="958.95" x2="958.95" y1="1185.1" y2="1282.92" stroke="rgba(0,0,0,0.065)" stroke-width="1.42"/>
<line x1="1012.85" x2="1012.85" y1="1185.1" y2="1282.92" stroke="rgba(0,0,0,0.065)" stroke-width="1.42"/>
<line x1="1066.75" x2="1066.75" y1="1185.1" y2="1282.92" stroke="rgba(0,0,0,0.065)" stroke-width="1.42"/>
<line x1="1120.65" x2="1120.65" y1="1185.1" y2="1282.92" stroke="rgba(0,0,0,0.065)" stroke-width="1.42"/>
<line x1="1174.55" x2="1174.55" y1="1185.1" y2="1282.92" stroke="rgba(0,0,0,0.065)" stroke-width="1.42"/>
<line x1="932" x2="932" y1="1185.1" y2="1282.92" stroke="rgba(0,0,0,0.15)" stroke-width="2.845"/>
<line x1="985.9" x2="985.9" y1="1185.1" y2="1282.92" stroke="rgba(0,0,0,0.15)" stroke-width="2.845"/>
<line x1="1039.8" x2="1039.8" y1="1185.1" y2="1282.92" stroke="rgba(0,0,0,0.15)" stroke-width="2.845"/>
<line x1="1093.7" x2="1093.7" y1="1185.1" y2="1282.92" stroke="rgba(0,0,0,0.15)" stroke-width="2.845"/>
<line x1="1147.6" x2="1147.6" y1="1185.1" y2="1282.92" stroke="rgba(0,0,0,0.15)" stroke-width="2.845"/>
<line x1="920" x2="1188" y1="1203.45" y2="1203.45" stroke="rgba(0,0,0,0.15)" stroke-width="2.845"/>
<line x1="920" x2="1188" y1="1234.1" y2="1234.1" stroke="rgba(0,0,0,0.15)" stroke-width="2.845"/>
<line x1="920" x2="1188" y1="1264.75" y2="1264.75" stroke="rgba(0,0,0,0.15)" stroke-width="2.845"/>
<line x1="932" x2="951" y1="1203.45" y2="1203.45" stroke="#1170D6" stroke-width="2.845"/><circle cx="951" cy="1203.45" r="6.25" fill="#1170D6"/><text class="lb" transform="translate(958.5 1214) scale(1 1.04)">3</text>
<line x1="932" x2="974.75" y1="1234.1" y2="1234.1" stroke="#DC0032" stroke-width="2.845"/><circle cx="974.75" cy="1234.1" r="6.25" fill="#DC0032"/><text class="lb" transform="translate(982.25 1245) scale(1 1.04)">6</text>
<rect x="1188" y="1297.65" width="45" height="97.82" fill="#D0D0D0"/>
<text class="st" text-anchor="middle" transform="translate(1202.1 1347.46) rotate(90) scale(1 1.02)">TO</text>
<text class="ax" text-anchor="end" transform="translate(57.3 1325) scale(1 1.02)">Con</text>
<line x1="63.4" x2="71" y1="1316" y2="1316" stroke="#333" stroke-width="2.845"/>
<text class="ax" text-anchor="end" transform="translate(57.3 1356) scale(1 1.02)">Lab</text>
<line x1="63.4" x2="71" y1="1346.65" y2="1346.65" stroke="#333" stroke-width="2.845"/>
<text class="ax" text-anchor="end" transform="translate(57.3 1386) scale(1 1.02)">Lib</text>
<line x1="63.4" x2="71" y1="1377.3" y2="1377.3" stroke="#333" stroke-width="2.845"/>
<line x1="109.95" x2="109.95" y1="1297.65" y2="1395.47" stroke="rgba(0,0,0,0.065)" stroke-width="1.42"/>
<line x1="163.85" x2="163.85" y1="1297.65" y2="1395.47" stroke="rgba(0,0,0,0.065)" stroke-width="1.42"/>
<line x1="217.75" x2="217.75" y1="1297.65" y2="1395.47" stroke="rgba(0,0,0,0.065)" stroke-width="1.42"/>
<line x1="271.65" x2="271.65" y1="1297.65" y2="1395.47" stroke="rgba(0,0,0,0.065)" stroke-width="1.42"/>
<line x1="325.55" x2="325.55" y1="1297.65" y2="1395.47" stroke="rgba(0,0,0,0.065)" stroke-width="1.42"/>
<line x1="83" x2="83" y1="1297.65" y2="1395.47" stroke="rgba(0,0,0,0.15)" stroke-width="2.845"/>
<line x1="136.9" x2="136.9" y1="1297.65" y2="1395.47" stroke="rgba(0,0,0,0.15)" stroke-width="2.845"/>
<line x1="190.8" x2="190.8" y1="1297.65" y2="1395.47" stroke="rgba(0,0,0,0.15)" stroke-width="2.845"/>
<line x1="244.7" x2="244.7" y1="1297.65" y2="1395.47" stroke="rgba(0,0,0,0.15)" stroke-width="2.845"/>
<line x1="298.6" x2="298.6" y1="1297.65" y2="1395.47" stroke="rgba(0,0,0,0.15)" stroke-width="2.845"/>
<line x1="71" x2="339" y1="1316" y2="1316" stroke="rgba(0,0,0,0.15)" stroke-width="2.845"/>
<line x1="71" x2="339" y1="1346.65" y2="1346.65" stroke="rgba(0,0,0,0.15)" stroke-width="2.845"/>
<line x1="71" x2="339" y1="1377.3" y2="1377.3" stroke="rgba(0,0,0,0.15)" stroke-width="2.845"/>
<line x1="83" x2="95.5" y1="1316" y2="1316" stroke="#1170D6" stroke-width="2.845"/><circle cx="95.5" cy="1316" r="6.25" fill="#1170D6"/><text class="lb" transform="translate(103 1327) scale(1 1.04)">9</text>
<line x1="83" x2="98.75" y1="1346.65" y2="1346.65" stroke="#DC0032" stroke-width="2.845"/><circle cx="98.75" cy="1346.65" r="6.25" fill="#DC0032"/><text class="lb" transform="translate(106.25 1358) scale(1 1.04)">8</text>
<line x1="83" x2="117.5" y1="1377.3" y2="1377.3" stroke="#F7941D" stroke-width="2.845"/><circle cx="117.5" cy="1377.3" r="6.25" fill="#F7941D"/><text class="lb" transform="translate(125 1388) scale(1 1.04)">4</text>
<line x1="392.95" x2="392.95" y1="1297.65" y2="1395.47" stroke="rgba(0,0,0,0.065)" stroke-width="1.42"/>
<line x1="446.85" x2="446.85" y1="1297.65" y2="1395.47" stroke="rgba(0,0,0,0.065)" stroke-width="1.42"/>
<line x1="500.75" x2="500.75" y1="1297.65" y2="1395.47" stroke="rgba(0,0,0,0.065)" stroke-width="1.42"/>
<line x1="554.65" x2="554.65" y1="1297.65" y2="1395.47" stroke="rgba(0,0,0,0.065)" stroke-width="1.42"/>
<line x1="608.55" x2="608.55" y1="1297.65" y2="1395.47" stroke="rgba(0,0,0,0.065)" stroke-width="1.42"/>
<line x1="366" x2="366" y1="1297.65" y2="1395.47" stroke="rgba(0,0,0,0.15)" stroke-width="2.845"/>
<line x1="419.9" x2="419.9" y1="1297.65" y2="1395.47" stroke="rgba(0,0,0,0.15)" stroke-width="2.845"/>
<line x1="473.8" x2="473.8" y1="1297.65" y2="1395.47" stroke="rgba(0,0,0,0.15)" stroke-width="2.845"/>
<line x1="527.7" x2="527.7" y1="1297.65" y2="1395.47" stroke="rgba(0,0,0,0.15)" stroke-width="2.845"/>
<line x1="581.6" x2="581.6" y1="1297.65" y2="1395.47" stroke="rgba(0,0,0,0.15)" stroke-width="2.845"/>
<line x1="354" x2="622" y1="1316" y2="1316" stroke="rgba(0,0,0,0.15)" stroke-width="2.845"/>
<line x1="354" x2="622" y1="1346.65" y2="1346.65" stroke="rgba(0,0,0,0.15)" stroke-width="2.845"/>
<line x1="354" x2="622" y1="1377.3" y2="1377.3" stroke="rgba(0,0,0,0.15)" stroke-width="2.845"/>
<line x1="366" x2="389.75" y1="1316" y2="1316" stroke="#1170D6" stroke-width="2.845" stroke-dasharray="11.38 11.38"/><circle cx="389.75" cy="1316" r="6.25" fill="#1170D6"/><text class="lb" transform="translate(397.25 1327) scale(1 1.04)">9</text>
<line x1="366" x2="387.5" y1="1377.3" y2="1377.3" stroke="#F7941D" stroke-width="2.845"/><circle cx="387.5" cy="1377.3" r="6.25" fill="#F7941D"/><text class="lb" transform="translate(395 1388) scale(1 1.04)">5</text>
<line x1="675.95" x2="675.95" y1="1297.65" y2="1395.47" stroke="rgba(0,0,0,0.065)" stroke-width="1.42"/>
<line x1="729.85" x2="729.85" y1="1297.65" y2="1395.47" stroke="rgba(0,0,0,0.065)" stroke-width="1.42"/>
<line x1="783.75" x2="783.75" y1="1297.65" y2="1395.47" stroke="rgba(0,0,0,0.065)" stroke-width="1.42"/>
<line x1="837.65" x2="837.65" y1="1297.65" y2="1395.47" stroke="rgba(0,0,0,0.065)" stroke-width="1.42"/>
<line x1="891.55" x2="891.55" y1="1297.65" y2="1395.47" stroke="rgba(0,0,0,0.065)" stroke-width="1.42"/>
<line x1="649" x2="649" y1="1297.65" y2="1395.47" stroke="rgba(0,0,0,0.15)" stroke-width="2.845"/>
<line x1="702.9" x2="702.9" y1="1297.65" y2="1395.47" stroke="rgba(0,0,0,0.15)" stroke-width="2.845"/>
<line x1="756.8" x2="756.8" y1="1297.65" y2="1395.47" stroke="rgba(0,0,0,0.15)" stroke-width="2.845"/>
<line x1="810.7" x2="810.7" y1="1297.65" y2="1395.47" stroke="rgba(0,0,0,0.15)" stroke-width="2.845"/>
<line x1="864.6" x2="864.6" y1="1297.65" y2="1395.47" stroke="rgba(0,0,0,0.15)" stroke-width="2.845"/>
<line x1="637" x2="905" y1="1316" y2="1316" stroke="rgba(0,0,0,0.15)" stroke-width="2.845"/>
<line x1="637" x2="905" y1="1346.65" y2="1346.65" stroke="rgba(0,0,0,0.15)" stroke-width="2.845"/>
<line x1="637" x2="905" y1="1377.3" y2="1377.3" stroke="rgba(0,0,0,0.15)" stroke-width="2.845"/>
<line x1="649" x2="677.25" y1="1316" y2="1316" stroke="#1170D6" stroke-width="2.845" stroke-dasharray="11.38 11.38"/><circle cx="677.25" cy="1316" r="6.25" fill="#1170D6"/><text class="lb" transform="translate(684.75 1327) scale(1 1.04)">7</text>
<line x1="649" x2="685.5" y1="1377.3" y2="1377.3" stroke="#F7941D" stroke-width="2.845"/><circle cx="685.5" cy="1377.3" r="6.25" fill="#F7941D"/><text class="lb" transform="translate(693 1388) scale(1 1.04)">5</text>
<line x1="958.95" x2="958.95" y1="1297.65" y2="1395.47" stroke="rgba(0,0,0,0.065)" stroke-width="1.42"/>
<line x1="1012.85" x2="1012.85" y1="1297.65" y2="1395.47" stroke="rgba(0,0,0,0.065)" stroke-width="1.42"/>
<line x1="1066.75" x2="1066.75" y1="1297.65" y2="1395.47" stroke="rgba(0,0,0,0.065)" stroke-width="1.42"/>
<line x1="1120.65" x2="1120.65" y1="1297.65" y2="1395.47" stroke="rgba(0,0,0,0.065)" stroke-width="1.42"/>
<line x1="1174.55" x2="1174.55" y1="1297.65" y2="1395.47" stroke="rgba(0,0,0,0.065)" stroke-width="1.42"/>
<line x1="932" x2="932" y1="1297.65" y2="1395.47" stroke="rgba(0,0,0,0.15)" stroke-width="2.845"/>
<line x1="985.9" x2="985.9" y1="1297.65" y2="1395.47" stroke="rgba(0,0,0,0.15)" stroke-width="2.845"/>
<line x1="1039.8" x2="1039.8" y1="1297.65" y2="1395.47" stroke="rgba(0,0,0,0.15)" stroke-width="2.845"/>
<line x1="1093.7" x2="1093.7" y1="1297.65" y2="1395.47" stroke="rgba(0,0,0,0.15)" stroke-width="2.845"/>
<line x1="1147.6" x2="1147.6" y1="1297.65" y2="1395.47" stroke="rgba(0,0,0,0.15)" stroke-width="2.845"/>
<line x1="920" x2="1188" y1="1316" y2="1316" stroke="rgba(0,0,0,0.15)" stroke-width="2.845"/>
<line x1="920" x2="1188" y1="1346.65" y2="1346.65" stroke="rgba(0,0,0,0.15)" stroke-width="2.845"/>
<line x1="920" x2="1188" y1="1377.3" y2="1377.3" stroke="rgba(0,0,0,0.15)" stroke-width="2.845"/>
<line x1="83" x2="83" y1="1395.47" y2="1402.8" stroke="#333" stroke-width="2.845"/><text class="ax" transform="translate(76.08 1426) scale(1 1.04)">0</text>
<line x1="136.9" x2="136.9" y1="1395.47" y2="1402.8" stroke="#333" stroke-width="2.845"/><text class="ax" transform="translate(129.98 1426) scale(1 1.04)">5</text>
<line x1="190.8" x2="190.8" y1="1395.47" y2="1402.8" stroke="#333" stroke-width="2.845"/><text class="ax" transform="translate(177.35 1426) scale(1 1.04)" dx="0.73 -0.73" clip-path="url(#k5)">10</text>
<line x1="244.7" x2="244.7" y1="1395.47" y2="1402.8" stroke="#333" stroke-width="2.845"/><text class="ax" transform="translate(231.25 1426) scale(1 1.04)" dx="0.73 -0.73" clip-path="url(#k6)">15</text>
<line x1="298.6" x2="298.6" y1="1395.47" y2="1402.8" stroke="#333" stroke-width="2.845"/><text class="ax" transform="translate(285.15 1426) scale(1 1.04)">20</text>
<line x1="366" x2="366" y1="1395.47" y2="1402.8" stroke="#333" stroke-width="2.845"/><text class="ax" transform="translate(359.08 1426) scale(1 1.04)">0</text>
<line x1="419.9" x2="419.9" y1="1395.47" y2="1402.8" stroke="#333" stroke-width="2.845"/><text class="ax" transform="translate(412.98 1426) scale(1 1.04)">5</text>
<line x1="473.8" x2="473.8" y1="1395.47" y2="1402.8" stroke="#333" stroke-width="2.845"/><text class="ax" transform="translate(460.35 1426) scale(1 1.04)" dx="0.73 -0.73" clip-path="url(#k5)">10</text>
<line x1="527.7" x2="527.7" y1="1395.47" y2="1402.8" stroke="#333" stroke-width="2.845"/><text class="ax" transform="translate(514.25 1426) scale(1 1.04)" dx="0.73 -0.73" clip-path="url(#k6)">15</text>
<line x1="581.6" x2="581.6" y1="1395.47" y2="1402.8" stroke="#333" stroke-width="2.845"/><text class="ax" transform="translate(568.15 1426) scale(1 1.04)">20</text>
<line x1="649" x2="649" y1="1395.47" y2="1402.8" stroke="#333" stroke-width="2.845"/><text class="ax" transform="translate(642.08 1426) scale(1 1.04)">0</text>
<line x1="702.9" x2="702.9" y1="1395.47" y2="1402.8" stroke="#333" stroke-width="2.845"/><text class="ax" transform="translate(695.98 1426) scale(1 1.04)">5</text>
<line x1="756.8" x2="756.8" y1="1395.47" y2="1402.8" stroke="#333" stroke-width="2.845"/><text class="ax" transform="translate(743.35 1426) scale(1 1.04)" dx="0.73 -0.73" clip-path="url(#k5)">10</text>
<line x1="810.7" x2="810.7" y1="1395.47" y2="1402.8" stroke="#333" stroke-width="2.845"/><text class="ax" transform="translate(797.25 1426) scale(1 1.04)" dx="0.73 -0.73" clip-path="url(#k6)">15</text>
<line x1="864.6" x2="864.6" y1="1395.47" y2="1402.8" stroke="#333" stroke-width="2.845"/><text class="ax" transform="translate(851.15 1426) scale(1 1.04)">20</text>
<line x1="932" x2="932" y1="1395.47" y2="1402.8" stroke="#333" stroke-width="2.845"/><text class="ax" transform="translate(925.08 1426) scale(1 1.04)">0</text>
<line x1="985.9" x2="985.9" y1="1395.47" y2="1402.8" stroke="#333" stroke-width="2.845"/><text class="ax" transform="translate(978.98 1426) scale(1 1.04)">5</text>
<line x1="1039.8" x2="1039.8" y1="1395.47" y2="1402.8" stroke="#333" stroke-width="2.845"/><text class="ax" transform="translate(1026.35 1426) scale(1 1.04)" dx="0.73 -0.73" clip-path="url(#k5)">10</text>
<line x1="1093.7" x2="1093.7" y1="1395.47" y2="1402.8" stroke="#333" stroke-width="2.845"/><text class="ax" transform="translate(1080.25 1426) scale(1 1.04)" dx="0.73 -0.73" clip-path="url(#k6)">15</text>
<line x1="1147.6" x2="1147.6" y1="1395.47" y2="1402.8" stroke="#333" stroke-width="2.845"/><text class="ax" transform="translate(1134.15 1426) scale(1 1.04)">20</text>
<text class="tt" text-anchor="middle" transform="translate(628.7 1459.2) scale(1 1.02)">Estimated Coefficient</text>
<text class="tt" transform="translate(264.5 1508.8) scale(1 1.02)">Effect direction</text>
<line x1="488.4" x2="609.4" y1="1498.1" y2="1498.1" stroke="#000" stroke-width="2.845"/>
<text class="lg" transform="translate(639.5 1506.9) scale(1 1.02)">Positive</text>
<line x1="750.6" x2="871.6" y1="1498.1" y2="1498.1" stroke="#000" stroke-width="2.845" stroke-dasharray="11.38 11.38"/>
<text class="lg" transform="translate(901.3 1506.9) scale(1 1.02)">Negative</text>
</svg>
</body></html>
